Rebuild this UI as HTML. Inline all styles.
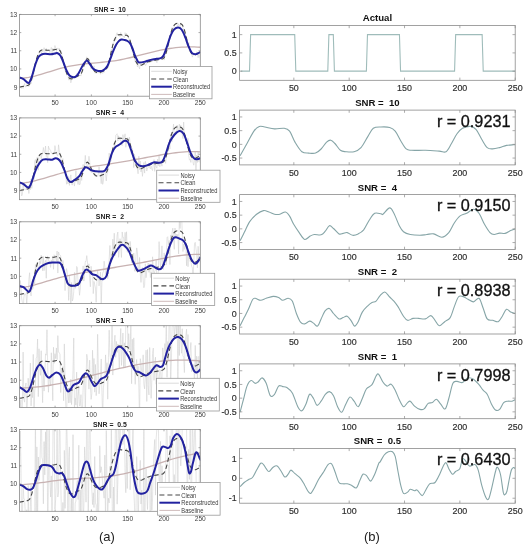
<!DOCTYPE html>
<html><head><meta charset="utf-8"><style>html,body{margin:0;padding:0;background:#fff;overflow:hidden}</style></head><body>
<svg width="528" height="550" viewBox="0 0 528 550" style="display:block;will-change:transform;filter:blur(0.3px)">
<rect width="528" height="550" fill="#fff"/>
<defs>
<clipPath id="cl0"><rect x="19.5" y="14.4" width="180.8" height="81.8"/></clipPath>
<clipPath id="cl1"><rect x="19.5" y="117.9" width="180.8" height="81.8"/></clipPath>
<clipPath id="cl2"><rect x="19.5" y="221.8" width="180.8" height="81.8"/></clipPath>
<clipPath id="cl3"><rect x="19.5" y="325.7" width="180.8" height="81.8"/></clipPath>
<clipPath id="cl4"><rect x="19.5" y="429.5" width="180.8" height="81.8"/></clipPath>
<clipPath id="cr0"><rect x="239.6" y="25.5" width="275.6" height="54.8"/></clipPath>
<clipPath id="cr1"><rect x="239.6" y="110.1" width="275.6" height="54.8"/></clipPath>
<clipPath id="cr2"><rect x="239.6" y="194.6" width="275.6" height="54.8"/></clipPath>
<clipPath id="cr3"><rect x="239.6" y="279.2" width="275.6" height="54.8"/></clipPath>
<clipPath id="cr4"><rect x="239.6" y="363.9" width="275.6" height="54.8"/></clipPath>
<clipPath id="cr5"><rect x="239.6" y="448.4" width="275.6" height="54.8"/></clipPath>
</defs>
<path d="M19.5,87.08 20.22,86.34 20.95,87.35 21.67,88.44 22.39,87.42 23.12,88.35 23.84,86.11 24.56,83.4 25.29,86.92 26.01,87.04 26.73,84.67 27.46,84.79 28.18,85.06 28.9,86.7 29.62,84.11 30.35,81.39 31.07,83.67 31.79,79.57 32.52,79.7 33.24,75.4 33.96,73.27 34.69,66.82 35.41,65.77 36.13,59.83 36.86,57.52 37.58,56.05 38.3,58.93 39.03,53.58 39.75,51.55 40.47,50.48 41.2,53.28 41.92,50.88 42.64,51.75 43.37,51.39 44.09,47.7 44.81,51.52 45.54,50.08 46.26,48.35 46.98,51.37 47.7,50.49 48.43,50.08 49.15,50.18 49.87,52.74 50.6,50.09 51.32,47.45 52.04,53.17 52.77,48.25 53.49,49.61 54.21,51 54.94,45.57 55.66,47.9 56.38,51.67 57.11,48.98 57.83,47.9 58.55,49.56 59.28,48.31 60,50.78 60.72,50.81 61.45,51.29 62.17,57.98 62.89,59 63.62,63.27 64.34,65.04 65.06,70.49 65.78,71.84 66.51,73.32 67.23,73.01 67.95,74 68.68,80.04 69.4,79.75 70.12,77.33 70.85,82.81 71.57,79.75 72.29,78.87 73.02,75.9 73.74,76.7 74.46,78.36 75.19,78.05 75.91,77.43 76.63,73.51 77.36,77.06 78.08,76.49 78.8,74.88 79.53,75.48 80.25,75.1 80.97,76.07 81.7,72.55 82.42,71.59 83.14,66.11 83.86,64.66 84.59,63.59 85.31,60.1 86.03,60.54 86.76,56.84 87.48,58.72 88.2,57.96 88.93,62.65 89.65,60.72 90.37,66.37 91.1,68.75 91.82,66.95 92.54,69.68 93.27,68.91 93.99,65.87 94.71,72.92 95.44,73.16 96.16,71.94 96.88,71.62 97.61,73.06 98.33,73.09 99.05,71.15 99.78,71.32 100.5,74.19 101.22,72.01 101.94,71.51 102.67,73.41 103.39,70.51 104.11,72.48 104.84,68.5 105.56,69.53 106.28,68.88 107.01,68.92 107.73,66.13 108.45,67.53 109.18,63.02 109.9,56.94 110.62,58.68 111.35,49.48 112.07,51.56 112.79,43.69 113.52,44.36 114.24,38.96 114.96,38.49 115.69,40.43 116.41,33.82 117.13,32.69 117.86,35.22 118.58,35.36 119.3,35 120.02,36.61 120.75,32.52 121.47,35.9 122.19,35.02 122.92,36.61 123.64,36.37 124.36,37.74 125.09,32.71 125.81,35.55 126.53,33.37 127.26,35.53 127.98,37.52 128.7,37.82 129.43,39.84 130.15,40.76 130.87,44.01 131.6,46.65 132.32,51.75 133.04,53.55 133.77,51.45 134.49,58.66 135.21,61.66 135.94,60.74 136.66,60.08 137.38,66.9 138.1,65.16 138.83,66.46 139.55,68.91 140.27,63.91 141,65.27 141.72,64.81 142.44,66.12 143.17,63.33 143.89,64.92 144.61,63.74 145.34,65.3 146.06,65.16 146.78,59.74 147.51,63.13 148.23,61.27 148.95,61.69 149.68,62.29 150.4,62.23 151.12,59.78 151.85,61.48 152.57,61.03 153.29,60.54 154.02,58.09 154.74,58.95 155.46,59.42 156.18,61.19 156.91,62.7 157.63,57.91 158.35,57.75 159.08,59.84 159.8,58.34 160.52,57.73 161.25,57.5 161.97,57.18 162.69,59.72 163.42,55.35 164.14,60.09 164.86,54.62 165.59,53.56 166.31,50.48 167.03,45.72 167.76,43.44 168.48,45.46 169.2,43.31 169.93,35.19 170.65,35.99 171.37,31.45 172.1,27.59 172.82,30.78 173.54,30.32 174.26,24.53 174.99,24.22 175.71,24.31 176.43,23.46 177.16,25.12 177.88,26.41 178.6,23.77 179.33,25.47 180.05,26.92 180.77,22.81 181.5,24.33 182.22,24.11 182.94,28.06 183.67,29.07 184.39,31.91 185.11,34.25 185.84,34.95 186.56,39.91 187.28,40.63 188.01,43.51 188.73,42.73 189.45,51.81 190.18,49.13 190.9,52.56 191.62,53.51 192.34,57.13 193.07,55.6 193.79,53.39 194.51,55.03 195.24,54.54 195.96,55.01 196.68,51.77 197.41,53.74 198.13,57.7 198.85,54.29 199.58,56.47 200.3,58.68" fill="none" stroke="#cfcfcf" stroke-width="0.55" clip-path="url(#cl0)"/>
<path d="M19.5,78.21 22.56,78.07 25.63,77.76 28.69,77.3 31.76,76.71 34.82,76.01 37.89,75.22 40.95,74.36 44.02,73.44 47.08,72.49 50.14,71.52 53.21,70.55 56.27,69.6 59.34,68.7 62.4,67.86 65.47,67.09 68.53,66.41 71.59,65.82 74.66,65.29 77.72,64.82 80.79,64.41 83.85,64.04 86.92,63.71 89.98,63.4 93.05,63.11 96.11,62.83 99.17,62.54 102.24,62.25 105.3,61.93 108.37,61.59 111.43,61.21 114.5,60.78 117.56,60.29 120.63,59.74 123.69,59.13 126.75,58.46 129.82,57.75 132.88,57 135.95,56.22 139.01,55.43 142.08,54.63 145.14,53.83 148.21,53.03 151.27,52.26 154.33,51.52 157.4,50.81 160.46,50.14 163.53,49.54 166.59,48.99 169.66,48.5 172.72,48.08 175.78,47.72 178.85,47.43 181.91,47.2 184.98,47.04 188.04,46.94 191.11,46.91 194.17,46.95 197.24,47.05 200.3,47.23" fill="none" stroke="#c8b2b2" stroke-width="1.3" clip-path="url(#cl0)"/>
<path d="M19.5,87.08 20.22,86.94 20.95,86.8 21.67,86.65 22.39,86.51 23.12,86.37 23.84,86.23 24.56,86.08 25.29,85.94 26.01,85.8 26.73,85.65 27.46,85.5 28.18,85.27 28.9,84.84 29.62,84.05 30.35,82.78 31.07,80.98 31.79,78.66 32.52,75.9 33.24,72.83 33.96,69.59 34.69,66.35 35.41,63.24 36.13,60.37 36.86,57.84 37.58,55.67 38.3,53.9 39.03,52.5 39.75,51.45 40.47,50.71 41.2,50.22 41.92,49.93 42.64,49.8 43.37,49.77 44.09,49.82 44.81,49.91 45.54,50.01 46.26,50.11 46.98,50.2 47.7,50.27 48.43,50.3 49.15,50.31 49.87,50.29 50.6,50.24 51.32,50.17 52.04,50.08 52.77,49.97 53.49,49.85 54.21,49.72 54.94,49.57 55.66,49.43 56.38,49.27 57.11,49.13 57.83,49.05 58.55,49.19 59.28,49.68 60,50.65 60.72,52.15 61.45,54.17 62.17,56.63 62.89,59.41 63.62,62.35 64.34,65.3 65.06,68.11 65.78,70.69 66.51,72.93 67.23,74.8 67.95,76.29 68.68,77.4 69.4,78.16 70.12,78.62 70.85,78.82 71.57,78.83 72.29,78.67 73.02,78.41 73.74,78.08 74.46,77.71 75.19,77.32 75.91,76.93 76.63,76.56 77.36,76.21 78.08,75.89 78.8,75.59 79.53,75.24 80.25,74.71 80.97,73.84 81.7,72.52 82.42,70.7 83.14,68.44 83.86,65.97 84.59,63.54 85.31,61.44 86.03,59.86 86.76,58.94 87.48,58.71 88.2,59.12 88.93,60.07 89.65,61.41 90.37,62.99 91.1,64.68 91.82,66.34 92.54,67.88 93.27,69.23 93.99,70.36 94.71,71.25 95.44,71.91 96.16,72.35 96.88,72.61 97.61,72.71 98.33,72.68 99.05,72.55 99.78,72.36 100.5,72.12 101.22,71.86 101.94,71.58 102.67,71.3 103.39,71.03 104.11,70.77 104.84,70.44 105.56,69.92 106.28,69.06 107.01,67.73 107.73,65.89 108.45,63.54 109.18,60.76 109.9,57.67 110.62,54.42 111.35,51.18 112.07,48.07 112.79,45.21 113.52,42.67 114.24,40.52 114.96,38.75 115.69,37.36 116.41,36.32 117.13,35.58 117.86,35.09 118.58,34.81 119.3,34.68 120.02,34.66 120.75,34.72 121.47,34.81 122.19,34.92 122.92,35.03 123.64,35.12 124.36,35.19 125.09,35.23 125.81,35.24 126.53,35.31 127.26,35.55 127.98,36.13 128.7,37.17 129.43,38.72 130.15,40.77 130.87,43.26 131.6,46.05 132.32,48.99 133.04,51.94 133.77,54.75 134.49,57.32 135.21,59.55 135.94,61.42 136.66,62.89 137.38,63.99 138.1,64.74 138.83,65.19 139.55,65.39 140.27,65.38 141,65.22 141.72,64.96 142.44,64.62 143.17,64.24 143.89,63.85 144.61,63.46 145.34,63.08 146.06,62.73 146.78,62.41 147.51,62.12 148.23,61.85 148.95,61.62 149.68,61.4 150.4,61.21 151.12,61.04 151.85,60.87 152.57,60.72 153.29,60.58 154.02,60.45 154.74,60.31 155.46,60.19 156.18,60.06 156.91,59.93 157.63,59.81 158.35,59.68 159.08,59.55 159.8,59.43 160.52,59.3 161.25,59.17 161.97,59.03 162.69,58.81 163.42,58.38 164.14,57.6 164.86,56.34 165.59,54.54 166.31,52.23 167.03,49.48 167.76,46.41 168.48,43.17 169.2,39.93 169.93,36.83 170.65,33.96 171.37,31.43 172.1,29.27 172.82,27.5 173.54,26.1 174.26,25.05 174.99,24.31 175.71,23.82 176.43,23.54 177.16,23.4 177.88,23.38 178.6,23.43 179.33,23.52 180.05,23.64 180.77,23.82 181.5,24.21 182.22,24.92 182.94,26.08 183.67,27.75 184.39,29.91 185.11,32.48 185.84,35.34 186.56,38.35 187.28,41.34 188.01,44.19 188.73,46.78 189.45,49.03 190.18,50.9 190.9,52.38 191.62,53.48 192.34,54.24 193.07,54.68 193.79,54.87 194.51,54.86 195.24,54.7 195.96,54.43 196.68,54.08 197.41,53.7 198.13,53.3 198.85,52.91 199.58,52.53 200.3,52.18" fill="none" stroke="#474747" stroke-width="1.1" stroke-dasharray="4.5,2.8" clip-path="url(#cl0)"/>
<path d="M19.5,77.6C20.17,77.85 22.03,78.2 23.5,79.1C24.97,80 27.13,82.85 28.3,83C29.47,83.15 29.8,81.42 30.5,80C31.2,78.58 31.67,77.17 32.5,74.5C33.33,71.83 34.5,66.92 35.5,64C36.5,61.08 37.5,58.58 38.5,57C39.5,55.42 40.42,55.03 41.5,54.5C42.58,53.97 43.42,53.83 45,53.8C46.58,53.77 49.33,54.35 51,54.3C52.67,54.25 53.9,53.68 55,53.5C56.1,53.32 56.72,52.87 57.6,53.2C58.48,53.53 59.35,54.03 60.3,55.5C61.25,56.97 62.27,59.5 63.3,62C64.33,64.5 65.47,68.25 66.5,70.5C67.53,72.75 68.33,74.37 69.5,75.5C70.67,76.63 72.33,77.22 73.5,77.3C74.67,77.38 75.58,76.8 76.5,76C77.42,75.2 77.92,74.33 79,72.5C80.08,70.67 81.73,66.98 83,65C84.27,63.02 85.52,60.85 86.6,60.6C87.68,60.35 88.43,62.18 89.5,63.5C90.57,64.82 91.72,67.3 93,68.5C94.28,69.7 95.75,70.3 97.2,70.7C98.65,71.1 100.48,71.13 101.7,70.9C102.92,70.67 103.55,70.1 104.5,69.3C105.45,68.5 106.4,67.9 107.4,66.1C108.4,64.3 109.55,60.95 110.5,58.5C111.45,56.05 112.18,53.65 113.1,51.4C114.02,49.15 115.05,46.72 116,45C116.95,43.28 117.88,42 118.8,41.1C119.72,40.2 120.55,39.78 121.5,39.6C122.45,39.42 123.5,39.77 124.5,40C125.5,40.23 126.57,40.43 127.5,41C128.43,41.57 129.27,42.15 130.1,43.4C130.93,44.65 131.73,46.6 132.5,48.5C133.27,50.4 133.95,52.92 134.7,54.8C135.45,56.68 136.28,58.52 137,59.8C137.72,61.08 137.68,62.18 139,62.5C140.32,62.82 142.95,62.13 144.9,61.7C146.85,61.27 148.75,60.38 150.7,59.9C152.65,59.42 154.93,59.08 156.6,58.8C158.27,58.52 159.52,58.8 160.7,58.2C161.88,57.6 162.62,57.27 163.7,55.2C164.78,53.13 166.03,49.12 167.2,45.8C168.37,42.48 169.53,38.03 170.7,35.3C171.87,32.57 172.93,30.68 174.2,29.4C175.47,28.12 177.02,27.5 178.3,27.6C179.58,27.7 180.72,28.33 181.9,30C183.08,31.67 184.33,34.97 185.4,37.6C186.47,40.23 187.23,43.25 188.3,45.8C189.37,48.35 190.62,51.48 191.8,52.9C192.98,54.32 194.22,54.3 195.4,54.3C196.58,54.3 198.05,53.32 198.9,52.9C199.75,52.48 200.23,51.98 200.5,51.8" fill="none" stroke="#2222a0" stroke-width="2" stroke-linejoin="round" clip-path="url(#cl0)"/>
<rect x="19.5" y="14.4" width="180.8" height="81.8" fill="none" stroke="#8a8a8a" stroke-width="0.8"/>
<path d="M55.08,96.2v-1.8M55.08,14.4v1.8M91.38,96.2v-1.8M91.38,14.4v1.8M127.69,96.2v-1.8M127.69,14.4v1.8M163.99,96.2v-1.8M163.99,14.4v1.8M200.3,96.2v-1.8M200.3,14.4v1.8M19.5,87.11h1.8M200.3,87.11h-1.8M19.5,68.93h1.8M200.3,68.93h-1.8M19.5,50.76h1.8M200.3,50.76h-1.8M19.5,32.58h1.8M200.3,32.58h-1.8M19.5,14.4h1.8M200.3,14.4h-1.8" stroke="#8a8a8a" stroke-width="0.7" fill="none"/>
<g font-family='"Liberation Sans", sans-serif' font-size="6.6" fill="#404040"><text x="55.08" y="105.4" text-anchor="middle">50</text><text x="91.38" y="105.4" text-anchor="middle">100</text><text x="127.69" y="105.4" text-anchor="middle">150</text><text x="163.99" y="105.4" text-anchor="middle">200</text><text x="200.3" y="105.4" text-anchor="middle">250</text><text x="17.3" y="89.51" text-anchor="end">9</text><text x="17.3" y="71.33" text-anchor="end">10</text><text x="17.3" y="53.16" text-anchor="end">11</text><text x="17.3" y="34.98" text-anchor="end">12</text><text x="17.3" y="16.8" text-anchor="end">13</text></g>
<text x="109.9" y="11.7" text-anchor="middle" font-family='"Liberation Sans", sans-serif' font-size="6.9" font-weight="bold" fill="#222">SNR = &#160;10</text>
<path d="M19.5,193.19 20.22,183.9 20.95,190.07 21.67,195.91 22.39,194.63 23.12,184.32 23.84,188.95 24.56,189.35 25.29,189.7 26.01,189.11 26.73,185.2 27.46,186.29 28.18,187.72 28.9,193.46 29.62,185.04 30.35,189.64 31.07,179.11 31.79,188.4 32.52,180.07 33.24,176.36 33.96,179.59 34.69,161.4 35.41,159.57 36.13,166.15 36.86,157.55 37.58,157.32 38.3,170.23 39.03,154.77 39.75,155.25 40.47,153.8 41.2,159 41.92,154.75 42.64,154.17 43.37,147.44 44.09,151.68 44.81,153.44 45.54,146.01 46.26,156.34 46.98,155.61 47.7,162.68 48.43,146.1 49.15,149.08 49.87,149.29 50.6,150.46 51.32,153.13 52.04,152.52 52.77,154.71 53.49,154.35 54.21,152.95 54.94,145.65 55.66,150.2 56.38,153.06 57.11,155.47 57.83,155.67 58.55,144.82 59.28,150.69 60,153.81 60.72,157.35 61.45,163.11 62.17,160.46 62.89,158.62 63.62,167.77 64.34,169.91 65.06,172.7 65.78,173.65 66.51,184.25 67.23,179.46 67.95,183.98 68.68,176.56 69.4,185.44 70.12,179.29 70.85,174.84 71.57,183.87 72.29,185.13 73.02,180.97 73.74,181.59 74.46,186.08 75.19,178.55 75.91,170.54 76.63,181.32 77.36,180.7 78.08,184.51 78.8,177.52 79.53,184.86 80.25,183.64 80.97,171.06 81.7,180.47 82.42,168.89 83.14,164.46 83.86,168.19 84.59,164.33 85.31,155.36 86.03,164.33 86.76,165.35 87.48,168.85 88.2,162.42 88.93,156.31 89.65,160.2 90.37,171.12 91.1,172.38 91.82,172.31 92.54,169.94 93.27,173.74 93.99,172.81 94.71,173.3 95.44,176.88 96.16,176.05 96.88,175.09 97.61,176.62 98.33,173.71 99.05,166.87 99.78,172.95 100.5,175.35 101.22,183.63 101.94,173.18 102.67,184.36 103.39,181.45 104.11,170.07 104.84,170.47 105.56,174.16 106.28,180.95 107.01,173.06 107.73,172.72 108.45,163.91 109.18,153.17 109.9,160.1 110.62,161.75 111.35,160.42 112.07,151.84 112.79,149.57 113.52,151.83 114.24,143.45 114.96,147.9 115.69,135.4 116.41,134.6 117.13,133.75 117.86,140.92 118.58,135.79 119.3,138.83 120.02,140.07 120.75,139.88 121.47,144.69 122.19,145.51 122.92,134.63 123.64,139.56 124.36,137.63 125.09,133.81 125.81,147.25 126.53,142.65 127.26,138.19 127.98,137.71 128.7,142.52 129.43,137.17 130.15,143.24 130.87,152.71 131.6,154.11 132.32,148.54 133.04,153.16 133.77,167.57 134.49,154.2 135.21,160.12 135.94,158.32 136.66,168.28 137.38,168.94 138.1,173.77 138.83,156.24 139.55,169.75 140.27,161.09 141,171.9 141.72,167.65 142.44,176.32 143.17,169.62 143.89,162.52 144.61,173.1 145.34,161.32 146.06,164.58 146.78,171.03 147.51,168.08 148.23,167.61 148.95,165.36 149.68,167.54 150.4,168.77 151.12,166.03 151.85,169.41 152.57,170.55 153.29,164.32 154.02,159.61 154.74,171.32 155.46,163.67 156.18,166.75 156.91,168.23 157.63,159.12 158.35,165.72 159.08,155.7 159.8,166.75 160.52,160.9 161.25,163.78 161.97,166.23 162.69,159.42 163.42,162.64 164.14,158.14 164.86,160.07 165.59,163.37 166.31,156.23 167.03,152.72 167.76,145.2 168.48,151.12 169.2,143.63 169.93,148.78 170.65,134.27 171.37,140.24 172.1,141.63 172.82,131.29 173.54,124.17 174.26,136.04 174.99,133.15 175.71,130.97 176.43,132.58 177.16,125.04 177.88,130.84 178.6,130.47 179.33,124.16 180.05,130.85 180.77,125.2 181.5,132.47 182.22,134.37 182.94,138.59 183.67,122.12 184.39,134.98 185.11,134.78 185.84,138.99 186.56,141.06 187.28,144.6 188.01,138.32 188.73,155.37 189.45,160.17 190.18,159.37 190.9,162.43 191.62,153.32 192.34,153.71 193.07,162.9 193.79,165.2 194.51,160.1 195.24,151.37 195.96,171.76 196.68,155 197.41,162.48 198.13,151.7 198.85,161.7 199.58,157.43 200.3,163.07" fill="none" stroke="#cfcfcf" stroke-width="0.55" clip-path="url(#cl1)"/>
<path d="M19.5,183.42 22.56,183.1 25.63,182.66 28.69,182.12 31.76,181.48 34.82,180.77 37.89,179.99 40.95,179.15 44.02,178.28 47.08,177.38 50.14,176.47 53.21,175.55 56.27,174.64 59.34,173.75 62.4,172.88 65.47,172.04 68.53,171.23 71.59,170.46 74.66,169.74 77.72,169.07 80.79,168.45 83.85,167.89 86.92,167.37 89.98,166.89 93.05,166.43 96.11,165.98 99.17,165.54 102.24,165.09 105.3,164.63 108.37,164.15 111.43,163.66 114.5,163.16 117.56,162.65 120.63,162.13 123.69,161.6 126.75,161.07 129.82,160.53 132.88,159.98 135.95,159.43 139.01,158.87 142.08,158.32 145.14,157.76 148.21,157.2 151.27,156.64 154.33,156.08 157.4,155.53 160.46,155 163.53,154.48 166.59,153.99 169.66,153.53 172.72,153.11 175.78,152.73 178.85,152.39 181.91,152.1 184.98,151.88 188.04,151.72 191.11,151.62 194.17,151.6 197.24,151.66 200.3,151.81" fill="none" stroke="#c8b2b2" stroke-width="1.3" clip-path="url(#cl1)"/>
<path d="M19.5,190.58 20.22,190.44 20.95,190.3 21.67,190.15 22.39,190.01 23.12,189.87 23.84,189.73 24.56,189.58 25.29,189.44 26.01,189.3 26.73,189.15 27.46,189 28.18,188.77 28.9,188.34 29.62,187.55 30.35,186.28 31.07,184.48 31.79,182.16 32.52,179.4 33.24,176.33 33.96,173.09 34.69,169.85 35.41,166.74 36.13,163.87 36.86,161.34 37.58,159.17 38.3,157.4 39.03,156 39.75,154.95 40.47,154.21 41.2,153.72 41.92,153.43 42.64,153.3 43.37,153.27 44.09,153.32 44.81,153.41 45.54,153.51 46.26,153.61 46.98,153.7 47.7,153.77 48.43,153.8 49.15,153.81 49.87,153.79 50.6,153.74 51.32,153.67 52.04,153.58 52.77,153.47 53.49,153.35 54.21,153.22 54.94,153.07 55.66,152.93 56.38,152.77 57.11,152.63 57.83,152.55 58.55,152.69 59.28,153.18 60,154.15 60.72,155.65 61.45,157.67 62.17,160.13 62.89,162.91 63.62,165.85 64.34,168.8 65.06,171.61 65.78,174.19 66.51,176.43 67.23,178.3 67.95,179.79 68.68,180.9 69.4,181.66 70.12,182.12 70.85,182.32 71.57,182.33 72.29,182.17 73.02,181.91 73.74,181.58 74.46,181.21 75.19,180.82 75.91,180.43 76.63,180.06 77.36,179.71 78.08,179.39 78.8,179.09 79.53,178.74 80.25,178.21 80.97,177.34 81.7,176.02 82.42,174.2 83.14,171.94 83.86,169.47 84.59,167.04 85.31,164.94 86.03,163.36 86.76,162.44 87.48,162.21 88.2,162.62 88.93,163.57 89.65,164.91 90.37,166.49 91.1,168.18 91.82,169.84 92.54,171.38 93.27,172.73 93.99,173.86 94.71,174.75 95.44,175.41 96.16,175.85 96.88,176.11 97.61,176.21 98.33,176.18 99.05,176.05 99.78,175.86 100.5,175.62 101.22,175.36 101.94,175.08 102.67,174.8 103.39,174.53 104.11,174.27 104.84,173.94 105.56,173.42 106.28,172.56 107.01,171.23 107.73,169.39 108.45,167.04 109.18,164.26 109.9,161.17 110.62,157.92 111.35,154.68 112.07,151.57 112.79,148.71 113.52,146.17 114.24,144.02 114.96,142.25 115.69,140.86 116.41,139.82 117.13,139.08 117.86,138.59 118.58,138.31 119.3,138.18 120.02,138.16 120.75,138.22 121.47,138.31 122.19,138.42 122.92,138.53 123.64,138.62 124.36,138.69 125.09,138.73 125.81,138.74 126.53,138.81 127.26,139.05 127.98,139.63 128.7,140.67 129.43,142.22 130.15,144.27 130.87,146.76 131.6,149.55 132.32,152.49 133.04,155.44 133.77,158.25 134.49,160.82 135.21,163.05 135.94,164.92 136.66,166.39 137.38,167.49 138.1,168.24 138.83,168.69 139.55,168.89 140.27,168.88 141,168.72 141.72,168.46 142.44,168.12 143.17,167.74 143.89,167.35 144.61,166.96 145.34,166.58 146.06,166.23 146.78,165.91 147.51,165.62 148.23,165.35 148.95,165.12 149.68,164.9 150.4,164.71 151.12,164.54 151.85,164.37 152.57,164.22 153.29,164.08 154.02,163.95 154.74,163.81 155.46,163.69 156.18,163.56 156.91,163.43 157.63,163.31 158.35,163.18 159.08,163.05 159.8,162.93 160.52,162.8 161.25,162.67 161.97,162.53 162.69,162.31 163.42,161.88 164.14,161.1 164.86,159.84 165.59,158.04 166.31,155.73 167.03,152.98 167.76,149.91 168.48,146.67 169.2,143.43 169.93,140.33 170.65,137.46 171.37,134.93 172.1,132.77 172.82,131 173.54,129.6 174.26,128.55 174.99,127.81 175.71,127.32 176.43,127.04 177.16,126.9 177.88,126.88 178.6,126.93 179.33,127.02 180.05,127.14 180.77,127.32 181.5,127.71 182.22,128.42 182.94,129.58 183.67,131.25 184.39,133.41 185.11,135.98 185.84,138.84 186.56,141.85 187.28,144.84 188.01,147.69 188.73,150.28 189.45,152.53 190.18,154.4 190.9,155.88 191.62,156.98 192.34,157.74 193.07,158.18 193.79,158.37 194.51,158.36 195.24,158.2 195.96,157.93 196.68,157.58 197.41,157.2 198.13,156.8 198.85,156.41 199.58,156.03 200.3,155.68" fill="none" stroke="#474747" stroke-width="1.1" stroke-dasharray="4.5,2.8" clip-path="url(#cl1)"/>
<path d="M19.5,182.3C20.17,182.6 22.07,183.23 23.5,184.1C24.93,184.97 26.95,187.32 28.1,187.5C29.25,187.68 29.55,186.9 30.4,185.2C31.25,183.5 32.27,179.95 33.2,177.3C34.13,174.65 34.95,171.67 36,169.3C37.05,166.93 38.35,164.7 39.5,163.1C40.65,161.5 41.58,160.32 42.9,159.7C44.22,159.08 45.88,159.4 47.4,159.4C48.92,159.4 50.67,159.9 52,159.7C53.33,159.5 54.37,158.3 55.4,158.2C56.43,158.1 57.27,158.38 58.2,159.1C59.13,159.82 59.95,160.6 61,162.5C62.05,164.4 63.45,167.85 64.5,170.5C65.55,173.15 66.37,176.52 67.3,178.4C68.23,180.28 69.07,181.42 70.1,181.8C71.13,182.18 72.02,181.6 73.5,180.7C74.98,179.8 77.52,178.02 79,176.4C80.48,174.78 81.35,172.52 82.4,171C83.45,169.48 84.35,167.78 85.3,167.3C86.25,166.82 87.07,167.58 88.1,168.1C89.13,168.62 90.18,169.88 91.5,170.4C92.82,170.92 94.3,171.02 96,171.2C97.7,171.38 100.18,171.63 101.7,171.5C103.22,171.37 103.97,171.63 105.1,170.4C106.23,169.17 107.35,167.03 108.5,164.1C109.65,161.17 110.85,155.63 112,152.8C113.15,149.97 114.08,148.52 115.4,147.1C116.72,145.68 118.38,145.35 119.9,144.3C121.42,143.25 123.17,141.18 124.5,140.8C125.83,140.42 126.77,140.38 127.9,142C129.03,143.62 130.17,147.47 131.3,150.5C132.43,153.53 133.42,157.72 134.7,160.2C135.98,162.68 137.3,164.42 139,165.4C140.7,166.38 143.13,166.28 144.9,166.1C146.67,165.92 148.03,164.93 149.6,164.3C151.17,163.67 152.73,162.55 154.3,162.3C155.87,162.05 157.63,162.95 159,162.8C160.37,162.65 161.33,163 162.5,161.4C163.67,159.8 164.83,156.33 166,153.2C167.17,150.07 168.13,145.63 169.5,142.6C170.87,139.57 172.53,136.95 174.2,135C175.87,133.05 177.93,131.1 179.5,130.9C181.07,130.7 182.33,131.85 183.6,133.8C184.87,135.75 185.92,139.37 187.1,142.6C188.28,145.83 189.52,150.55 190.7,153.2C191.88,155.85 193.03,157.52 194.2,158.5C195.37,159.48 196.65,159.18 197.7,159.1C198.75,159.02 200.03,158.18 200.5,158" fill="none" stroke="#2222a0" stroke-width="2" stroke-linejoin="round" clip-path="url(#cl1)"/>
<rect x="19.5" y="117.9" width="180.8" height="81.8" fill="none" stroke="#8a8a8a" stroke-width="0.8"/>
<path d="M55.08,199.7v-1.8M55.08,117.9v1.8M91.38,199.7v-1.8M91.38,117.9v1.8M127.69,199.7v-1.8M127.69,117.9v1.8M163.99,199.7v-1.8M163.99,117.9v1.8M200.3,199.7v-1.8M200.3,117.9v1.8M19.5,190.61h1.8M200.3,190.61h-1.8M19.5,172.43h1.8M200.3,172.43h-1.8M19.5,154.26h1.8M200.3,154.26h-1.8M19.5,136.08h1.8M200.3,136.08h-1.8M19.5,117.9h1.8M200.3,117.9h-1.8" stroke="#8a8a8a" stroke-width="0.7" fill="none"/>
<g font-family='"Liberation Sans", sans-serif' font-size="6.6" fill="#404040"><text x="55.08" y="208.9" text-anchor="middle">50</text><text x="91.38" y="208.9" text-anchor="middle">100</text><text x="127.69" y="208.9" text-anchor="middle">150</text><text x="163.99" y="208.9" text-anchor="middle">200</text><text x="200.3" y="208.9" text-anchor="middle">250</text><text x="17.3" y="193.01" text-anchor="end">9</text><text x="17.3" y="174.83" text-anchor="end">10</text><text x="17.3" y="156.66" text-anchor="end">11</text><text x="17.3" y="138.48" text-anchor="end">12</text><text x="17.3" y="120.3" text-anchor="end">13</text></g>
<text x="109.9" y="115.2" text-anchor="middle" font-family='"Liberation Sans", sans-serif' font-size="6.9" font-weight="bold" fill="#222">SNR = &#160;4</text>
<path d="M19.5,304.26 20.22,280.49 20.95,285.99 21.67,298.07 22.39,302.61 23.12,312.7 23.84,297.56 24.56,293.79 25.29,294.18 26.01,294.13 26.73,304.27 27.46,293.56 28.18,293.06 28.9,279.34 29.62,272.78 30.35,291.55 31.07,296.04 31.79,286.71 32.52,289.37 33.24,287.65 33.96,277.58 34.69,284.18 35.41,264.58 36.13,268.81 36.86,262.74 37.58,264.9 38.3,268.57 39.03,269.38 39.75,261.23 40.47,263.59 41.2,255.28 41.92,257.37 42.64,270.82 43.37,256.5 44.09,270.65 44.81,263.47 45.54,260.36 46.26,278.26 46.98,256.69 47.7,256.16 48.43,259.28 49.15,261.95 49.87,261.42 50.6,267.41 51.32,260.27 52.04,263.01 52.77,256.46 53.49,269.29 54.21,254.76 54.94,255.54 55.66,258.24 56.38,261.06 57.11,251 57.83,273.09 58.55,251.98 59.28,254.65 60,255.21 60.72,255.71 61.45,268.1 62.17,266.62 62.89,260.44 63.62,265.44 64.34,270.63 65.06,290.65 65.78,272.71 66.51,268.64 67.23,272.11 67.95,281.35 68.68,300.37 69.4,276.14 70.12,287.49 70.85,311.54 71.57,282.46 72.29,300.99 73.02,298.77 73.74,291.83 74.46,272.38 75.19,288.42 75.91,281.62 76.63,266.48 77.36,267.67 78.08,284.32 78.8,285.4 79.53,295.24 80.25,289.05 80.97,276.99 81.7,275.97 82.42,277 83.14,265.9 83.86,281.09 84.59,271.5 85.31,261.53 86.03,261.42 86.76,255.64 87.48,262.14 88.2,269.62 88.93,263.85 89.65,278.83 90.37,286.78 91.1,266.27 91.82,274.29 92.54,272.2 93.27,293.61 93.99,281.41 94.71,284.65 95.44,287.95 96.16,302.3 96.88,283.36 97.61,271.13 98.33,276.27 99.05,285.96 99.78,279.91 100.5,271.95 101.22,306.85 101.94,280.23 102.67,273.27 103.39,271.61 104.11,261.16 104.84,266.49 105.56,274.2 106.28,273.44 107.01,267.27 107.73,278.68 108.45,271.34 109.18,259.1 109.9,245.5 110.62,263.42 111.35,259.06 112.07,253.48 112.79,239.18 113.52,250.38 114.24,233.23 114.96,255.81 115.69,246.62 116.41,245.7 117.13,235.11 117.86,232.04 118.58,257.3 119.3,251.23 120.02,238.7 120.75,248.7 121.47,257.43 122.19,231.94 122.92,237.49 123.64,237.59 124.36,247.34 125.09,232.34 125.81,245.04 126.53,231.74 127.26,252.07 127.98,252.07 128.7,242.52 129.43,253.14 130.15,241.42 130.87,248.06 131.6,262.67 132.32,255.66 133.04,262.85 133.77,253 134.49,271.04 135.21,271.35 135.94,256.71 136.66,247.91 137.38,251.41 138.1,271.51 138.83,270.41 139.55,257.46 140.27,274.03 141,282.38 141.72,271.19 142.44,267.5 143.17,279.93 143.89,287.7 144.61,285.22 145.34,263.83 146.06,277.71 146.78,271.22 147.51,267.39 148.23,263.06 148.95,272.37 149.68,263.82 150.4,277.51 151.12,272.05 151.85,278.52 152.57,256.81 153.29,268.25 154.02,275.24 154.74,271.24 155.46,269.8 156.18,260.46 156.91,283.29 157.63,277.58 158.35,270.86 159.08,241.64 159.8,257.27 160.52,267.81 161.25,259.45 161.97,245.86 162.69,268.55 163.42,269.45 164.14,252.88 164.86,258.8 165.59,255.23 166.31,264.71 167.03,237.64 167.76,236.72 168.48,244.92 169.2,240.49 169.93,264.49 170.65,234.99 171.37,240.77 172.1,232.33 172.82,228.07 173.54,236.91 174.26,249.35 174.99,228.03 175.71,238.63 176.43,234.24 177.16,236.85 177.88,234.2 178.6,253.92 179.33,218.76 180.05,228.5 180.77,220.11 181.5,211.81 182.22,232.09 182.94,251.5 183.67,244.09 184.39,249.38 185.11,244.9 185.84,241.95 186.56,265.76 187.28,245.32 188.01,266.69 188.73,251.2 189.45,257.52 190.18,261.44 190.9,260.51 191.62,266.28 192.34,267.76 193.07,278.91 193.79,262.57 194.51,243.81 195.24,242.3 195.96,248.61 196.68,254.43 197.41,267.86 198.13,246.28 198.85,260.87 199.58,260.62 200.3,262.49" fill="none" stroke="#cfcfcf" stroke-width="0.55" clip-path="url(#cl2)"/>
<path d="M19.5,287.66 22.56,287.35 25.63,286.89 28.69,286.3 31.76,285.6 34.82,284.82 37.89,283.96 40.95,283.06 44.02,282.13 47.08,281.19 50.14,280.26 53.21,279.36 56.27,278.51 59.34,277.71 62.4,276.95 65.47,276.23 68.53,275.54 71.59,274.89 74.66,274.28 77.72,273.68 80.79,273.12 83.85,272.57 86.92,272.04 89.98,271.52 93.05,271.01 96.11,270.51 99.17,270.01 102.24,269.51 105.3,269.01 108.37,268.51 111.43,268 114.5,267.49 117.56,266.97 120.63,266.45 123.69,265.92 126.75,265.38 129.82,264.84 132.88,264.29 135.95,263.73 139.01,263.16 142.08,262.59 145.14,262 148.21,261.41 151.27,260.8 154.33,260.19 157.4,259.57 160.46,258.95 163.53,258.35 166.59,257.76 169.66,257.2 172.72,256.67 175.78,256.18 178.85,255.74 181.91,255.34 184.98,255.01 188.04,254.74 191.11,254.54 194.17,254.43 197.24,254.4 200.3,254.46" fill="none" stroke="#c8b2b2" stroke-width="1.3" clip-path="url(#cl2)"/>
<path d="M19.5,294.48 20.22,294.34 20.95,294.2 21.67,294.05 22.39,293.91 23.12,293.77 23.84,293.63 24.56,293.48 25.29,293.34 26.01,293.2 26.73,293.05 27.46,292.9 28.18,292.67 28.9,292.24 29.62,291.45 30.35,290.18 31.07,288.38 31.79,286.06 32.52,283.3 33.24,280.23 33.96,276.99 34.69,273.75 35.41,270.64 36.13,267.77 36.86,265.24 37.58,263.07 38.3,261.3 39.03,259.9 39.75,258.85 40.47,258.11 41.2,257.62 41.92,257.33 42.64,257.2 43.37,257.17 44.09,257.22 44.81,257.31 45.54,257.41 46.26,257.51 46.98,257.6 47.7,257.67 48.43,257.7 49.15,257.71 49.87,257.69 50.6,257.64 51.32,257.57 52.04,257.48 52.77,257.37 53.49,257.25 54.21,257.12 54.94,256.97 55.66,256.83 56.38,256.67 57.11,256.53 57.83,256.45 58.55,256.59 59.28,257.08 60,258.05 60.72,259.55 61.45,261.57 62.17,264.03 62.89,266.81 63.62,269.75 64.34,272.7 65.06,275.51 65.78,278.09 66.51,280.33 67.23,282.2 67.95,283.69 68.68,284.8 69.4,285.56 70.12,286.02 70.85,286.22 71.57,286.23 72.29,286.07 73.02,285.81 73.74,285.48 74.46,285.11 75.19,284.72 75.91,284.33 76.63,283.96 77.36,283.61 78.08,283.29 78.8,282.99 79.53,282.64 80.25,282.11 80.97,281.24 81.7,279.92 82.42,278.1 83.14,275.84 83.86,273.37 84.59,270.94 85.31,268.84 86.03,267.26 86.76,266.34 87.48,266.11 88.2,266.52 88.93,267.47 89.65,268.81 90.37,270.39 91.1,272.08 91.82,273.74 92.54,275.28 93.27,276.63 93.99,277.76 94.71,278.65 95.44,279.31 96.16,279.75 96.88,280.01 97.61,280.11 98.33,280.08 99.05,279.95 99.78,279.76 100.5,279.52 101.22,279.26 101.94,278.98 102.67,278.7 103.39,278.43 104.11,278.17 104.84,277.84 105.56,277.32 106.28,276.46 107.01,275.13 107.73,273.29 108.45,270.94 109.18,268.16 109.9,265.07 110.62,261.82 111.35,258.58 112.07,255.47 112.79,252.61 113.52,250.07 114.24,247.92 114.96,246.15 115.69,244.76 116.41,243.72 117.13,242.98 117.86,242.49 118.58,242.21 119.3,242.08 120.02,242.06 120.75,242.12 121.47,242.21 122.19,242.32 122.92,242.43 123.64,242.52 124.36,242.59 125.09,242.63 125.81,242.64 126.53,242.71 127.26,242.95 127.98,243.53 128.7,244.57 129.43,246.12 130.15,248.17 130.87,250.66 131.6,253.45 132.32,256.39 133.04,259.34 133.77,262.15 134.49,264.72 135.21,266.95 135.94,268.82 136.66,270.29 137.38,271.39 138.1,272.14 138.83,272.59 139.55,272.79 140.27,272.78 141,272.62 141.72,272.36 142.44,272.02 143.17,271.64 143.89,271.25 144.61,270.86 145.34,270.48 146.06,270.13 146.78,269.81 147.51,269.52 148.23,269.25 148.95,269.02 149.68,268.8 150.4,268.61 151.12,268.44 151.85,268.27 152.57,268.12 153.29,267.98 154.02,267.85 154.74,267.71 155.46,267.59 156.18,267.46 156.91,267.33 157.63,267.21 158.35,267.08 159.08,266.95 159.8,266.83 160.52,266.7 161.25,266.57 161.97,266.43 162.69,266.21 163.42,265.78 164.14,265 164.86,263.74 165.59,261.94 166.31,259.63 167.03,256.88 167.76,253.81 168.48,250.57 169.2,247.33 169.93,244.23 170.65,241.36 171.37,238.83 172.1,236.67 172.82,234.9 173.54,233.5 174.26,232.45 174.99,231.71 175.71,231.22 176.43,230.94 177.16,230.8 177.88,230.78 178.6,230.83 179.33,230.92 180.05,231.04 180.77,231.22 181.5,231.61 182.22,232.32 182.94,233.48 183.67,235.15 184.39,237.31 185.11,239.88 185.84,242.74 186.56,245.75 187.28,248.74 188.01,251.59 188.73,254.18 189.45,256.43 190.18,258.3 190.9,259.78 191.62,260.88 192.34,261.64 193.07,262.08 193.79,262.27 194.51,262.26 195.24,262.1 195.96,261.83 196.68,261.48 197.41,261.1 198.13,260.7 198.85,260.31 199.58,259.93 200.3,259.58" fill="none" stroke="#474747" stroke-width="1.1" stroke-dasharray="4.5,2.8" clip-path="url(#cl2)"/>
<path d="M19.5,286C20.17,286.2 21.97,286.23 23.5,287.2C25.03,288.17 27.47,291.6 28.7,291.8C29.93,292 30.15,290.3 30.9,288.4C31.65,286.5 32.35,282.97 33.2,280.4C34.05,277.83 34.95,275.08 36,273C37.05,270.92 38.27,269.22 39.5,267.9C40.73,266.58 41.9,265.92 43.4,265.1C44.9,264.28 46.88,263.43 48.5,263C50.12,262.57 51.58,262.58 53.1,262.5C54.62,262.42 56.37,262.35 57.6,262.5C58.83,262.65 59.63,262.5 60.5,263.4C61.37,264.3 61.95,265.63 62.8,267.9C63.65,270.17 64.75,274.35 65.6,277C66.45,279.65 66.95,282.38 67.9,283.8C68.85,285.22 69.98,285.22 71.3,285.5C72.62,285.78 74.52,285.78 75.8,285.5C77.08,285.22 77.9,285.52 79,283.8C80.1,282.08 81.27,277.53 82.4,275.2C83.53,272.87 84.75,270.55 85.8,269.8C86.85,269.05 87.65,269.98 88.7,270.7C89.75,271.42 90.88,273.35 92.1,274.1C93.32,274.85 94.68,274.53 96,275.2C97.32,275.87 98.85,277.43 100,278.1C101.15,278.77 101.85,279.48 102.9,279.2C103.95,278.92 105.27,278.58 106.3,276.4C107.33,274.22 108.15,269.13 109.1,266.1C110.05,263.07 110.77,260.75 112,258.2C113.23,255.65 115,252.98 116.5,250.8C118,248.62 119.67,245.95 121,245.1C122.33,244.25 123.17,244.65 124.5,245.7C125.83,246.75 127.5,248.57 129,251.4C130.5,254.23 132.17,259.68 133.5,262.7C134.83,265.72 136.08,268.15 137,269.5C137.92,270.85 137.68,270.97 139,270.8C140.32,270.63 142.95,269.37 144.9,268.5C146.85,267.63 149.13,265.88 150.7,265.6C152.27,265.32 153.02,266.18 154.3,266.8C155.58,267.42 157.13,269.12 158.4,269.3C159.67,269.48 160.83,269.3 161.9,267.9C162.97,266.5 163.82,263.63 164.8,260.9C165.78,258.17 166.82,254.43 167.8,251.5C168.78,248.57 169.73,245.55 170.7,243.3C171.67,241.05 172.62,238.98 173.6,238C174.58,237.02 175.52,237.27 176.6,237.4C177.68,237.53 178.93,238.22 180.1,238.8C181.27,239.38 182.62,239.87 183.6,240.9C184.58,241.93 185.22,243.23 186,245C186.78,246.77 187.42,249.15 188.3,251.5C189.18,253.85 190.32,257.15 191.3,259.1C192.28,261.05 193.33,262.52 194.2,263.2C195.07,263.88 195.62,263.88 196.5,263.2C197.38,262.52 198.83,260.13 199.5,259.1C200.17,258.07 200.33,257.35 200.5,257" fill="none" stroke="#2222a0" stroke-width="2" stroke-linejoin="round" clip-path="url(#cl2)"/>
<rect x="19.5" y="221.8" width="180.8" height="81.8" fill="none" stroke="#8a8a8a" stroke-width="0.8"/>
<path d="M55.08,303.6v-1.8M55.08,221.8v1.8M91.38,303.6v-1.8M91.38,221.8v1.8M127.69,303.6v-1.8M127.69,221.8v1.8M163.99,303.6v-1.8M163.99,221.8v1.8M200.3,303.6v-1.8M200.3,221.8v1.8M19.5,294.51h1.8M200.3,294.51h-1.8M19.5,276.33h1.8M200.3,276.33h-1.8M19.5,258.16h1.8M200.3,258.16h-1.8M19.5,239.98h1.8M200.3,239.98h-1.8M19.5,221.8h1.8M200.3,221.8h-1.8" stroke="#8a8a8a" stroke-width="0.7" fill="none"/>
<g font-family='"Liberation Sans", sans-serif' font-size="6.6" fill="#404040"><text x="55.08" y="312.8" text-anchor="middle">50</text><text x="91.38" y="312.8" text-anchor="middle">100</text><text x="127.69" y="312.8" text-anchor="middle">150</text><text x="163.99" y="312.8" text-anchor="middle">200</text><text x="200.3" y="312.8" text-anchor="middle">250</text><text x="17.3" y="296.91" text-anchor="end">9</text><text x="17.3" y="278.73" text-anchor="end">10</text><text x="17.3" y="260.56" text-anchor="end">11</text><text x="17.3" y="242.38" text-anchor="end">12</text><text x="17.3" y="224.2" text-anchor="end">13</text></g>
<text x="109.9" y="219.1" text-anchor="middle" font-family='"Liberation Sans", sans-serif' font-size="6.9" font-weight="bold" fill="#222">SNR = &#160;2</text>
<path d="M19.5,396.55 20.22,406.94 20.95,399.77 21.67,419.64 22.39,405.28 23.12,352.07 23.84,398.92 24.56,402.15 25.29,386.59 26.01,382.94 26.73,419.22 27.46,400.94 28.18,378.21 28.9,390.74 29.62,392.91 30.35,363.01 31.07,405.83 31.79,388.3 32.52,397.6 33.24,354.33 33.96,419.92 34.69,391.05 35.41,385.12 36.13,358.41 36.86,357.01 37.58,339.08 38.3,396.67 39.03,348.8 39.75,368.62 40.47,375.32 41.2,350.73 41.92,379.63 42.64,402.63 43.37,368.48 44.09,391.07 44.81,374.18 45.54,353.88 46.26,355.18 46.98,329.77 47.7,365.56 48.43,392.26 49.15,376.73 49.87,379.97 50.6,385.89 51.32,352.77 52.04,374.28 52.77,400.81 53.49,347.21 54.21,363.24 54.94,353.74 55.66,358.61 56.38,347.94 57.11,359.67 57.83,335.63 58.55,351.99 59.28,353.14 60,353.75 60.72,392.57 61.45,368.76 62.17,373.11 62.89,366.56 63.62,400.82 64.34,343.92 65.06,377.33 65.78,406.21 66.51,418.4 67.23,391.73 67.95,389.38 68.68,403.06 69.4,387.62 70.12,402.74 70.85,379.09 71.57,404.61 72.29,390.74 73.02,370.14 73.74,337.96 74.46,409.15 75.19,397.9 75.91,405.02 76.63,372.17 77.36,410.46 78.08,396.87 78.8,387.48 79.53,406.11 80.25,405.15 80.97,394.65 81.7,425.82 82.42,410.9 83.14,388 83.86,374.3 84.59,378.56 85.31,408.21 86.03,380.44 86.76,354.28 87.48,358.9 88.2,372 88.93,389.11 89.65,360.09 90.37,385.87 91.1,399.36 91.82,393.68 92.54,350.22 93.27,376.13 93.99,358.48 94.71,392.14 95.44,364.45 96.16,395.68 96.88,387.06 97.61,334.29 98.33,368.64 99.05,393.87 99.78,385.36 100.5,376.9 101.22,358.95 101.94,392.66 102.67,417.42 103.39,387.93 104.11,381.76 104.84,379.55 105.56,354.89 106.28,374.03 107.01,362.78 107.73,399.21 108.45,357.48 109.18,330.14 109.9,353.51 110.62,360.65 111.35,359.4 112.07,323.63 112.79,375.05 113.52,356.2 114.24,342.61 114.96,335.17 115.69,357.4 116.41,341.47 117.13,352.43 117.86,343.98 118.58,348.75 119.3,368.81 120.02,346.39 120.75,328.48 121.47,365.45 122.19,351.04 122.92,333.04 123.64,367.81 124.36,342.84 125.09,367.72 125.81,323.85 126.53,300.36 127.26,306.42 127.98,351.81 128.7,333.67 129.43,347.6 130.15,350.03 130.87,323.61 131.6,383.72 132.32,339.19 133.04,364.22 133.77,337.89 134.49,364.87 135.21,384.3 135.94,367.18 136.66,359.48 137.38,374.58 138.1,366.29 138.83,386.92 139.55,419.36 140.27,358.69 141,362.54 141.72,373.29 142.44,374.55 143.17,354.82 143.89,384.29 144.61,388.88 145.34,378.15 146.06,350.25 146.78,401.45 147.51,349.59 148.23,385.94 148.95,394.93 149.68,347.51 150.4,374.45 151.12,398.33 151.85,379.35 152.57,353.41 153.29,348.05 154.02,380.29 154.74,363.49 155.46,357.21 156.18,384.25 156.91,364.13 157.63,371.74 158.35,381.7 159.08,380.69 159.8,369.39 160.52,370 161.25,381.77 161.97,378.84 162.69,347.85 163.42,365.41 164.14,351.2 164.86,343.61 165.59,354.07 166.31,318.12 167.03,377.28 167.76,341.54 168.48,360.84 169.2,314.13 169.93,314.12 170.65,384.34 171.37,362.1 172.1,327.29 172.82,323 173.54,322.67 174.26,337.77 174.99,326.51 175.71,322.06 176.43,336.39 177.16,314.16 177.88,379.86 178.6,322.06 179.33,355.5 180.05,315.77 180.77,339.7 181.5,353.28 182.22,328.74 182.94,355.61 183.67,357.3 184.39,372.55 185.11,344.31 185.84,336.71 186.56,329.19 187.28,355.47 188.01,334.53 188.73,357.72 189.45,362.19 190.18,350.73 190.9,342.52 191.62,371.61 192.34,370.41 193.07,369.2 193.79,364.52 194.51,384.17 195.24,345.44 195.96,373.73 196.68,356.14 197.41,381.51 198.13,357.43 198.85,356.38 199.58,372.24 200.3,323.07" fill="none" stroke="#cfcfcf" stroke-width="0.55" clip-path="url(#cl3)"/>
<path d="M19.5,387.93 22.56,387.89 25.63,387.8 28.69,387.65 31.76,387.46 34.82,387.21 37.89,386.91 40.95,386.57 44.02,386.18 47.08,385.74 50.14,385.26 53.21,384.73 56.27,384.16 59.34,383.55 62.4,382.91 65.47,382.23 68.53,381.52 71.59,380.79 74.66,380.03 77.72,379.25 80.79,378.46 83.85,377.66 86.92,376.84 89.98,376.02 93.05,375.2 96.11,374.38 99.17,373.57 102.24,372.76 105.3,371.97 108.37,371.18 111.43,370.42 114.5,369.66 117.56,368.93 120.63,368.21 123.69,367.51 126.75,366.84 129.82,366.19 132.88,365.56 135.95,364.96 139.01,364.38 142.08,363.84 145.14,363.33 148.21,362.85 151.27,362.4 154.33,361.98 157.4,361.61 160.46,361.27 163.53,360.97 166.59,360.71 169.66,360.5 172.72,360.33 175.78,360.2 178.85,360.12 181.91,360.09 184.98,360.11 188.04,360.18 191.11,360.31 194.17,360.49 197.24,360.72 200.3,361.01" fill="none" stroke="#c8b2b2" stroke-width="1.3" clip-path="url(#cl3)"/>
<path d="M19.5,398.38 20.22,398.24 20.95,398.1 21.67,397.95 22.39,397.81 23.12,397.67 23.84,397.53 24.56,397.38 25.29,397.24 26.01,397.1 26.73,396.95 27.46,396.8 28.18,396.57 28.9,396.14 29.62,395.35 30.35,394.08 31.07,392.28 31.79,389.96 32.52,387.2 33.24,384.13 33.96,380.89 34.69,377.65 35.41,374.54 36.13,371.67 36.86,369.14 37.58,366.97 38.3,365.2 39.03,363.8 39.75,362.75 40.47,362.01 41.2,361.52 41.92,361.23 42.64,361.1 43.37,361.07 44.09,361.12 44.81,361.21 45.54,361.31 46.26,361.41 46.98,361.5 47.7,361.57 48.43,361.6 49.15,361.61 49.87,361.59 50.6,361.54 51.32,361.47 52.04,361.38 52.77,361.27 53.49,361.15 54.21,361.02 54.94,360.87 55.66,360.73 56.38,360.57 57.11,360.43 57.83,360.35 58.55,360.49 59.28,360.98 60,361.95 60.72,363.45 61.45,365.47 62.17,367.93 62.89,370.71 63.62,373.65 64.34,376.6 65.06,379.41 65.78,381.99 66.51,384.23 67.23,386.1 67.95,387.59 68.68,388.7 69.4,389.46 70.12,389.92 70.85,390.12 71.57,390.13 72.29,389.97 73.02,389.71 73.74,389.38 74.46,389.01 75.19,388.62 75.91,388.23 76.63,387.86 77.36,387.51 78.08,387.19 78.8,386.89 79.53,386.54 80.25,386.01 80.97,385.14 81.7,383.82 82.42,382 83.14,379.74 83.86,377.27 84.59,374.84 85.31,372.74 86.03,371.16 86.76,370.24 87.48,370.01 88.2,370.42 88.93,371.37 89.65,372.71 90.37,374.29 91.1,375.98 91.82,377.64 92.54,379.18 93.27,380.53 93.99,381.66 94.71,382.55 95.44,383.21 96.16,383.65 96.88,383.91 97.61,384.01 98.33,383.98 99.05,383.85 99.78,383.66 100.5,383.42 101.22,383.16 101.94,382.88 102.67,382.6 103.39,382.33 104.11,382.07 104.84,381.74 105.56,381.22 106.28,380.36 107.01,379.03 107.73,377.19 108.45,374.84 109.18,372.06 109.9,368.97 110.62,365.72 111.35,362.48 112.07,359.37 112.79,356.51 113.52,353.97 114.24,351.82 114.96,350.05 115.69,348.66 116.41,347.62 117.13,346.88 117.86,346.39 118.58,346.11 119.3,345.98 120.02,345.96 120.75,346.02 121.47,346.11 122.19,346.22 122.92,346.33 123.64,346.42 124.36,346.49 125.09,346.53 125.81,346.54 126.53,346.61 127.26,346.85 127.98,347.43 128.7,348.47 129.43,350.02 130.15,352.07 130.87,354.56 131.6,357.35 132.32,360.29 133.04,363.24 133.77,366.05 134.49,368.62 135.21,370.85 135.94,372.72 136.66,374.19 137.38,375.29 138.1,376.04 138.83,376.49 139.55,376.69 140.27,376.68 141,376.52 141.72,376.26 142.44,375.92 143.17,375.54 143.89,375.15 144.61,374.76 145.34,374.38 146.06,374.03 146.78,373.71 147.51,373.42 148.23,373.15 148.95,372.92 149.68,372.7 150.4,372.51 151.12,372.34 151.85,372.17 152.57,372.02 153.29,371.88 154.02,371.75 154.74,371.61 155.46,371.49 156.18,371.36 156.91,371.23 157.63,371.11 158.35,370.98 159.08,370.85 159.8,370.73 160.52,370.6 161.25,370.47 161.97,370.33 162.69,370.11 163.42,369.68 164.14,368.9 164.86,367.64 165.59,365.84 166.31,363.53 167.03,360.78 167.76,357.71 168.48,354.47 169.2,351.23 169.93,348.13 170.65,345.26 171.37,342.73 172.1,340.57 172.82,338.8 173.54,337.4 174.26,336.35 174.99,335.61 175.71,335.12 176.43,334.84 177.16,334.7 177.88,334.68 178.6,334.73 179.33,334.82 180.05,334.94 180.77,335.12 181.5,335.51 182.22,336.22 182.94,337.38 183.67,339.05 184.39,341.21 185.11,343.78 185.84,346.64 186.56,349.65 187.28,352.64 188.01,355.49 188.73,358.08 189.45,360.33 190.18,362.2 190.9,363.68 191.62,364.78 192.34,365.54 193.07,365.98 193.79,366.17 194.51,366.16 195.24,366 195.96,365.73 196.68,365.38 197.41,365 198.13,364.6 198.85,364.21 199.58,363.83 200.3,363.48" fill="none" stroke="#474747" stroke-width="1.1" stroke-dasharray="4.5,2.8" clip-path="url(#cl3)"/>
<path d="M19.5,387.2C20.17,387.62 22.25,388.92 23.5,389.7C24.75,390.48 25.85,392.38 27,391.9C28.15,391.42 29.27,389.45 30.4,386.8C31.53,384.15 32.67,379.22 33.8,376C34.93,372.78 36.17,369.38 37.2,367.5C38.23,365.62 39.05,364.6 40,364.7C40.95,364.8 41.85,366.3 42.9,368.1C43.95,369.9 45.27,373.9 46.3,375.5C47.33,377.1 48.07,377.8 49.1,377.7C50.13,377.6 51.27,375.75 52.5,374.9C53.73,374.05 55.17,372.6 56.5,372.6C57.83,372.6 59.27,373.28 60.5,374.9C61.73,376.52 62.77,379.65 63.9,382.3C65.03,384.95 66.27,389.48 67.3,390.8C68.33,392.12 69.07,391.15 70.1,390.2C71.13,389.25 72.02,386.43 73.5,385.1C74.98,383.77 77.52,383.65 79,382.2C80.48,380.75 81.27,377.9 82.4,376.4C83.53,374.9 84.75,373.3 85.8,373.2C86.85,373.1 87.75,374.42 88.7,375.8C89.65,377.18 90.57,379.8 91.5,381.5C92.43,383.2 93.35,385.62 94.3,386C95.25,386.38 96.15,384.93 97.2,383.8C98.25,382.67 99.47,380.25 100.6,379.2C101.73,378.15 102.97,378.17 104,377.5C105.03,376.83 105.85,376.9 106.8,375.2C107.75,373.5 108.65,370.33 109.7,367.3C110.75,364.27 111.97,360.13 113.1,357C114.23,353.87 115.47,350.2 116.5,348.5C117.53,346.8 118.25,346.8 119.3,346.8C120.35,346.8 121.57,347.37 122.8,348.5C124.03,349.63 125.57,351.88 126.7,353.6C127.83,355.32 128.65,356.72 129.6,358.8C130.55,360.88 131.37,364.02 132.4,366.1C133.43,368.18 134.7,370.32 135.8,371.3C136.9,372.28 137.88,371.55 139,372C140.12,372.45 141.33,373.4 142.5,374C143.67,374.6 144.82,375.7 146,375.6C147.18,375.5 148.42,374.53 149.6,373.4C150.78,372.27 151.93,370.17 153.1,368.8C154.27,367.43 155.43,365.5 156.6,365.2C157.77,364.9 159.02,367 160.1,367C161.18,367 162.22,366.87 163.1,365.2C163.98,363.53 164.52,359.93 165.4,357C166.28,354.07 167.32,350.23 168.4,347.6C169.48,344.97 170.73,342.87 171.9,341.2C173.07,339.53 174.33,338.3 175.4,337.6C176.47,336.9 177.22,336.7 178.3,337C179.38,337.3 180.72,337.92 181.9,339.4C183.08,340.88 184.33,343.35 185.4,345.9C186.47,348.45 187.32,351.67 188.3,354.7C189.28,357.73 190.32,361.37 191.3,364.1C192.28,366.83 193.23,369.73 194.2,371.1C195.17,372.47 196.05,372.6 197.1,372.3C198.15,372 199.93,369.8 200.5,369.3" fill="none" stroke="#2222a0" stroke-width="2" stroke-linejoin="round" clip-path="url(#cl3)"/>
<rect x="19.5" y="325.7" width="180.8" height="81.8" fill="none" stroke="#8a8a8a" stroke-width="0.8"/>
<path d="M55.08,407.5v-1.8M55.08,325.7v1.8M91.38,407.5v-1.8M91.38,325.7v1.8M127.69,407.5v-1.8M127.69,325.7v1.8M163.99,407.5v-1.8M163.99,325.7v1.8M200.3,407.5v-1.8M200.3,325.7v1.8M19.5,398.41h1.8M200.3,398.41h-1.8M19.5,380.23h1.8M200.3,380.23h-1.8M19.5,362.06h1.8M200.3,362.06h-1.8M19.5,343.88h1.8M200.3,343.88h-1.8M19.5,325.7h1.8M200.3,325.7h-1.8" stroke="#8a8a8a" stroke-width="0.7" fill="none"/>
<g font-family='"Liberation Sans", sans-serif' font-size="6.6" fill="#404040"><text x="55.08" y="416.7" text-anchor="middle">50</text><text x="91.38" y="416.7" text-anchor="middle">100</text><text x="127.69" y="416.7" text-anchor="middle">150</text><text x="163.99" y="416.7" text-anchor="middle">200</text><text x="200.3" y="416.7" text-anchor="middle">250</text><text x="17.3" y="400.81" text-anchor="end">9</text><text x="17.3" y="382.63" text-anchor="end">10</text><text x="17.3" y="364.46" text-anchor="end">11</text><text x="17.3" y="346.28" text-anchor="end">12</text><text x="17.3" y="328.1" text-anchor="end">13</text></g>
<text x="109.9" y="323" text-anchor="middle" font-family='"Liberation Sans", sans-serif' font-size="6.9" font-weight="bold" fill="#222">SNR = &#160;1</text>
<path d="M19.5,487.35 20.22,430.98 20.95,463.54 21.67,528.24 22.39,516.9 23.12,484.03 23.84,498.88 24.56,499.2 25.29,512.48 26.01,573.22 26.73,509.77 27.46,589.31 28.18,485.51 28.9,528.98 29.62,527.76 30.35,506.65 31.07,485.17 31.79,551.03 32.52,560.93 33.24,530.56 33.96,566.34 34.69,520.11 35.41,414.72 36.13,517.73 36.86,446.89 37.58,525.63 38.3,457.04 39.03,480.39 39.75,468.95 40.47,443.06 41.2,395.08 41.92,457.24 42.64,459.92 43.37,503.8 44.09,441.59 44.81,474.85 45.54,431.84 46.26,466.96 46.98,395.68 47.7,544.66 48.43,477.26 49.15,430.16 49.87,479.41 50.6,497.02 51.32,475.9 52.04,520.37 52.77,460.31 53.49,367.35 54.21,419.02 54.94,509.02 55.66,499.45 56.38,480.56 57.11,424.06 57.83,497 58.55,491.89 59.28,429.4 60,431.17 60.72,482.2 61.45,513.97 62.17,533.71 62.89,502.46 63.62,566.65 64.34,450.41 65.06,508.41 65.78,466.54 66.51,413.31 67.23,442.99 67.95,537.42 68.68,457.74 69.4,446.95 70.12,523.57 70.85,532.05 71.57,498.31 72.29,557.82 73.02,434.7 73.74,589.37 74.46,537.07 75.19,503.2 75.91,501.11 76.63,485.01 77.36,480.45 78.08,499.53 78.8,445.22 79.53,575.89 80.25,489.81 80.97,517.52 81.7,482.33 82.42,476.97 83.14,520.01 83.86,506.7 84.59,446.95 85.31,462.58 86.03,502.17 86.76,392.47 87.48,381.47 88.2,532.71 88.93,463.1 89.65,376.17 90.37,446.74 91.1,470.94 91.82,489.76 92.54,504.62 93.27,492.83 93.99,507.49 94.71,456.56 95.44,502.93 96.16,505.1 96.88,535.78 97.61,489.79 98.33,523.53 99.05,494.88 99.78,445.8 100.5,472.59 101.22,466.77 101.94,472.44 102.67,484.04 103.39,491.23 104.11,498.18 104.84,455.18 105.56,528.38 106.28,430.54 107.01,481.47 107.73,510.93 108.45,498.2 109.18,502.93 109.9,466.36 110.62,498.23 111.35,420.6 112.07,494.43 112.79,551.19 113.52,487.01 114.24,535.94 114.96,455.44 115.69,410.1 116.41,425.51 117.13,504.17 117.86,480.68 118.58,378.78 119.3,437.05 120.02,449.6 120.75,407.58 121.47,351.82 122.19,398.17 122.92,444.55 123.64,436.04 124.36,425.61 125.09,474.83 125.81,492.68 126.53,448.31 127.26,488.53 127.98,453.69 128.7,448.42 129.43,360.2 130.15,489.91 130.87,463.23 131.6,467.72 132.32,446.6 133.04,425.18 133.77,489.47 134.49,505.26 135.21,540.27 135.94,513.56 136.66,456.54 137.38,477.27 138.1,520.45 138.83,495.2 139.55,479.23 140.27,460.34 141,504.05 141.72,490.07 142.44,552.44 143.17,525.38 143.89,414.25 144.61,566.06 145.34,491.69 146.06,469.06 146.78,492.48 147.51,509.54 148.23,479.4 148.95,476.92 149.68,479.79 150.4,551.4 151.12,482.03 151.85,510.17 152.57,497.73 153.29,466.6 154.02,449.92 154.74,439.55 155.46,495.14 156.18,438.21 156.91,428.09 157.63,429.45 158.35,419.2 159.08,480.48 159.8,481.49 160.52,441.4 161.25,528.91 161.97,465.75 162.69,495.13 163.42,488.23 164.14,542.34 164.86,507.05 165.59,470.46 166.31,431.8 167.03,424.98 167.76,464.72 168.48,465.84 169.2,488.25 169.93,435.83 170.65,458.96 171.37,422.3 172.1,374.32 172.82,443.89 173.54,501.08 174.26,474.58 174.99,497.72 175.71,486.79 176.43,386.44 177.16,429.44 177.88,499.28 178.6,412.39 179.33,388.22 180.05,453.13 180.77,465.96 181.5,452.8 182.22,428.64 182.94,415.59 183.67,395.57 184.39,396.52 185.11,400.17 185.84,395.98 186.56,427 187.28,517.66 188.01,464.52 188.73,449.32 189.45,479.45 190.18,429.56 190.9,481.89 191.62,505.61 192.34,411.58 193.07,443.15 193.79,461.21 194.51,432.9 195.24,427.31 195.96,455.89 196.68,567.47 197.41,495.82 198.13,486.66 198.85,507.37 199.58,459.69 200.3,419.6" fill="none" stroke="#cfcfcf" stroke-width="0.55" clip-path="url(#cl4)"/>
<path d="M19.5,484.79 22.56,484.65 25.63,484.44 28.69,484.18 31.76,483.87 34.82,483.51 37.89,483.12 40.95,482.71 44.02,482.28 47.08,481.84 50.14,481.4 53.21,480.97 56.27,480.56 59.34,480.17 62.4,479.82 65.47,479.51 68.53,479.25 71.59,479.02 74.66,478.83 77.72,478.65 80.79,478.5 83.85,478.35 86.92,478.2 89.98,478.04 93.05,477.86 96.11,477.67 99.17,477.44 102.24,477.17 105.3,476.85 108.37,476.48 111.43,476.04 114.5,475.55 117.56,475 120.63,474.42 123.69,473.8 126.75,473.15 129.82,472.46 132.88,471.73 135.95,470.93 139.01,470.08 142.08,469.16 145.14,468.18 148.21,467.15 151.27,466.09 154.33,465.02 157.4,463.94 160.46,462.88 163.53,461.84 166.59,460.84 169.66,459.9 172.72,459 175.78,458.15 178.85,457.35 181.91,456.59 184.98,455.88 188.04,455.21 191.11,454.59 194.17,454 197.24,453.46 200.3,452.96" fill="none" stroke="#c8b2b2" stroke-width="1.3" clip-path="url(#cl4)"/>
<path d="M19.5,502.18 20.22,502.04 20.95,501.9 21.67,501.75 22.39,501.61 23.12,501.47 23.84,501.33 24.56,501.18 25.29,501.04 26.01,500.9 26.73,500.75 27.46,500.6 28.18,500.37 28.9,499.94 29.62,499.15 30.35,497.88 31.07,496.08 31.79,493.76 32.52,491 33.24,487.93 33.96,484.69 34.69,481.45 35.41,478.34 36.13,475.47 36.86,472.94 37.58,470.77 38.3,469 39.03,467.6 39.75,466.55 40.47,465.81 41.2,465.32 41.92,465.03 42.64,464.9 43.37,464.87 44.09,464.92 44.81,465.01 45.54,465.11 46.26,465.21 46.98,465.3 47.7,465.37 48.43,465.4 49.15,465.41 49.87,465.39 50.6,465.34 51.32,465.27 52.04,465.18 52.77,465.07 53.49,464.95 54.21,464.82 54.94,464.67 55.66,464.53 56.38,464.37 57.11,464.23 57.83,464.15 58.55,464.29 59.28,464.78 60,465.75 60.72,467.25 61.45,469.27 62.17,471.73 62.89,474.51 63.62,477.45 64.34,480.4 65.06,483.21 65.78,485.79 66.51,488.03 67.23,489.9 67.95,491.39 68.68,492.5 69.4,493.26 70.12,493.72 70.85,493.92 71.57,493.93 72.29,493.77 73.02,493.51 73.74,493.18 74.46,492.81 75.19,492.42 75.91,492.03 76.63,491.66 77.36,491.31 78.08,490.99 78.8,490.69 79.53,490.34 80.25,489.81 80.97,488.94 81.7,487.62 82.42,485.8 83.14,483.54 83.86,481.07 84.59,478.64 85.31,476.54 86.03,474.96 86.76,474.04 87.48,473.81 88.2,474.22 88.93,475.17 89.65,476.51 90.37,478.09 91.1,479.78 91.82,481.44 92.54,482.98 93.27,484.33 93.99,485.46 94.71,486.35 95.44,487.01 96.16,487.45 96.88,487.71 97.61,487.81 98.33,487.78 99.05,487.65 99.78,487.46 100.5,487.22 101.22,486.96 101.94,486.68 102.67,486.4 103.39,486.13 104.11,485.87 104.84,485.54 105.56,485.02 106.28,484.16 107.01,482.83 107.73,480.99 108.45,478.64 109.18,475.86 109.9,472.77 110.62,469.52 111.35,466.28 112.07,463.17 112.79,460.31 113.52,457.77 114.24,455.62 114.96,453.85 115.69,452.46 116.41,451.42 117.13,450.68 117.86,450.19 118.58,449.91 119.3,449.78 120.02,449.76 120.75,449.82 121.47,449.91 122.19,450.02 122.92,450.13 123.64,450.22 124.36,450.29 125.09,450.33 125.81,450.34 126.53,450.41 127.26,450.65 127.98,451.23 128.7,452.27 129.43,453.82 130.15,455.87 130.87,458.36 131.6,461.15 132.32,464.09 133.04,467.04 133.77,469.85 134.49,472.42 135.21,474.65 135.94,476.52 136.66,477.99 137.38,479.09 138.1,479.84 138.83,480.29 139.55,480.49 140.27,480.48 141,480.32 141.72,480.06 142.44,479.72 143.17,479.34 143.89,478.95 144.61,478.56 145.34,478.18 146.06,477.83 146.78,477.51 147.51,477.22 148.23,476.95 148.95,476.72 149.68,476.5 150.4,476.31 151.12,476.14 151.85,475.97 152.57,475.82 153.29,475.68 154.02,475.55 154.74,475.41 155.46,475.29 156.18,475.16 156.91,475.03 157.63,474.91 158.35,474.78 159.08,474.65 159.8,474.53 160.52,474.4 161.25,474.27 161.97,474.13 162.69,473.91 163.42,473.48 164.14,472.7 164.86,471.44 165.59,469.64 166.31,467.33 167.03,464.58 167.76,461.51 168.48,458.27 169.2,455.03 169.93,451.93 170.65,449.06 171.37,446.53 172.1,444.37 172.82,442.6 173.54,441.2 174.26,440.15 174.99,439.41 175.71,438.92 176.43,438.64 177.16,438.5 177.88,438.48 178.6,438.53 179.33,438.62 180.05,438.74 180.77,438.92 181.5,439.31 182.22,440.02 182.94,441.18 183.67,442.85 184.39,445.01 185.11,447.58 185.84,450.44 186.56,453.45 187.28,456.44 188.01,459.29 188.73,461.88 189.45,464.13 190.18,466 190.9,467.48 191.62,468.58 192.34,469.34 193.07,469.78 193.79,469.97 194.51,469.96 195.24,469.8 195.96,469.53 196.68,469.18 197.41,468.8 198.13,468.4 198.85,468.01 199.58,467.63 200.3,467.28" fill="none" stroke="#474747" stroke-width="1.1" stroke-dasharray="4.5,2.8" clip-path="url(#cl4)"/>
<path d="M19.5,484.6C20.17,484.88 22.25,485.55 23.5,486.3C24.75,487.05 25.85,488.53 27,489.1C28.15,489.67 29.37,489.98 30.4,489.7C31.43,489.42 32.27,489.02 33.2,487.4C34.13,485.78 35.05,482.75 36,480C36.95,477.25 37.95,473.32 38.9,470.9C39.85,468.48 40.67,466.48 41.7,465.5C42.73,464.52 43.77,464.95 45.1,465C46.43,465.05 48.47,465.38 49.7,465.8C50.93,466.22 51.55,466.47 52.5,467.5C53.45,468.53 54.35,471.02 55.4,472C56.45,472.98 57.77,473.2 58.8,473.4C59.83,473.6 60.75,472.85 61.6,473.2C62.45,473.55 63.05,473.8 63.9,475.5C64.75,477.2 65.75,480.75 66.7,483.4C67.65,486.05 68.75,489.38 69.6,491.4C70.45,493.42 71.13,494.52 71.8,495.5C72.47,496.48 72.98,497.3 73.6,497.3C74.22,497.3 74.82,497.02 75.5,495.5C76.18,493.98 76.95,490.78 77.7,488.2C78.45,485.62 79.23,482.88 80,480C80.77,477.12 81.55,473.63 82.3,470.9C83.05,468.17 83.82,465.18 84.5,463.6C85.18,462.02 85.78,461.47 86.4,461.4C87.02,461.33 87.6,461.92 88.2,463.2C88.8,464.48 89.32,466.75 90,469.1C90.68,471.45 91.55,475.03 92.3,477.3C93.05,479.57 93.67,481.12 94.5,482.7C95.33,484.28 96.38,485.73 97.3,486.8C98.22,487.87 99.17,488.68 100,489.1C100.83,489.52 101.55,489.75 102.3,489.3C103.05,488.85 103.67,487.8 104.5,486.4C105.33,485 106.33,482.55 107.3,480.9C108.27,479.25 109.27,477.67 110.3,476.5C111.33,475.33 112.55,475.72 113.5,473.9C114.45,472.08 115.17,469.1 116,465.6C116.83,462.1 117.55,457.13 118.5,452.9C119.45,448.67 120.58,443.13 121.7,440.2C122.82,437.27 124.13,435.3 125.2,435.3C126.27,435.3 127.2,437.27 128.1,440.2C129,443.13 129.87,448.23 130.6,452.9C131.33,457.57 131.85,463.53 132.5,468.2C133.15,472.87 133.75,477.08 134.5,480.9C135.25,484.72 136.08,488.98 137,491.1C137.92,493.22 138.65,493.3 140,493.6C141.35,493.9 143.83,493.43 145.1,492.9C146.37,492.37 146.75,492.1 147.6,490.4C148.45,488.7 149.23,485.47 150.2,482.7C151.17,479.93 152.35,476.98 153.4,473.8C154.45,470.62 155.45,467.1 156.5,463.6C157.55,460.1 158.73,455.6 159.7,452.8C160.67,450 161.33,447.75 162.3,446.8C163.27,445.85 164.55,446.88 165.5,447.1C166.45,447.32 167.15,448.32 168,448.1C168.85,447.88 169.75,447.45 170.6,445.8C171.45,444.15 172.15,440.15 173.1,438.2C174.05,436.25 175.23,434.53 176.3,434.1C177.37,433.67 178.45,434.38 179.5,435.6C180.55,436.82 181.65,438.85 182.6,441.4C183.55,443.95 184.45,447.4 185.2,450.9C185.95,454.4 186.47,458.78 187.1,462.4C187.73,466.02 188.37,471.02 189,472.6C189.63,474.18 190.27,473.4 190.9,471.9C191.53,470.4 192.05,466.67 192.8,463.6C193.55,460.53 194.65,455.3 195.4,453.5C196.15,451.7 196.57,451.95 197.3,452.8C198.03,453.65 199.17,457.32 199.8,458.6C200.43,459.88 200.88,460.18 201.1,460.5" fill="none" stroke="#2222a0" stroke-width="2" stroke-linejoin="round" clip-path="url(#cl4)"/>
<rect x="19.5" y="429.5" width="180.8" height="81.8" fill="none" stroke="#8a8a8a" stroke-width="0.8"/>
<path d="M55.08,511.3v-1.8M55.08,429.5v1.8M91.38,511.3v-1.8M91.38,429.5v1.8M127.69,511.3v-1.8M127.69,429.5v1.8M163.99,511.3v-1.8M163.99,429.5v1.8M200.3,511.3v-1.8M200.3,429.5v1.8M19.5,502.21h1.8M200.3,502.21h-1.8M19.5,484.03h1.8M200.3,484.03h-1.8M19.5,465.86h1.8M200.3,465.86h-1.8M19.5,447.68h1.8M200.3,447.68h-1.8M19.5,429.5h1.8M200.3,429.5h-1.8" stroke="#8a8a8a" stroke-width="0.7" fill="none"/>
<g font-family='"Liberation Sans", sans-serif' font-size="6.6" fill="#404040"><text x="55.08" y="520.5" text-anchor="middle">50</text><text x="91.38" y="520.5" text-anchor="middle">100</text><text x="127.69" y="520.5" text-anchor="middle">150</text><text x="163.99" y="520.5" text-anchor="middle">200</text><text x="200.3" y="520.5" text-anchor="middle">250</text><text x="17.3" y="504.61" text-anchor="end">9</text><text x="17.3" y="486.43" text-anchor="end">10</text><text x="17.3" y="468.26" text-anchor="end">11</text><text x="17.3" y="450.08" text-anchor="end">12</text><text x="17.3" y="431.9" text-anchor="end">13</text></g>
<text x="109.9" y="426.8" text-anchor="middle" font-family='"Liberation Sans", sans-serif' font-size="6.9" font-weight="bold" fill="#222">SNR = &#160;0.5</text>
<g font-family='"Liberation Sans", sans-serif' font-size="6.3" fill="#3c3c3c"><rect x="149.4" y="66.4" width="62.6" height="32.4" fill="#fff" stroke="#9a9a9a" stroke-width="0.8"/><line x1="151.2" y1="71.3" x2="171.8" y2="71.3" stroke="#d2d2d2" stroke-width="0.8"/><line x1="151.2" y1="79" x2="171.8" y2="79" stroke="#474747" stroke-width="1.1" stroke-dasharray="5,3"/><line x1="151.2" y1="86.7" x2="171.8" y2="86.7" stroke="#2222a0" stroke-width="2"/><line x1="151.2" y1="94.4" x2="171.8" y2="94.4" stroke="#c8b2b2" stroke-width="0.9"/><text transform="translate(173.1,73.9) scale(0.915,1)">Noisy</text><text transform="translate(173.1,81.6) scale(0.915,1)">Clean</text><text transform="translate(173.1,89.3) scale(0.915,1)">Reconstructed</text><text transform="translate(173.1,97) scale(0.915,1)">Baseline</text></g>
<g font-family='"Liberation Sans", sans-serif' font-size="6.3" fill="#3c3c3c"><rect x="156.7" y="170.2" width="63.3" height="32.1" fill="#fff" stroke="#9a9a9a" stroke-width="0.8"/><line x1="158.5" y1="175.1" x2="179.1" y2="175.1" stroke="#d2d2d2" stroke-width="0.8"/><line x1="158.5" y1="182.8" x2="179.1" y2="182.8" stroke="#474747" stroke-width="1.1" stroke-dasharray="5,3"/><line x1="158.5" y1="190.5" x2="179.1" y2="190.5" stroke="#2222a0" stroke-width="2"/><line x1="158.5" y1="198.2" x2="179.1" y2="198.2" stroke="#c8b2b2" stroke-width="0.9"/><text transform="translate(180.4,177.7) scale(0.915,1)">Noisy</text><text transform="translate(180.4,185.4) scale(0.915,1)">Clean</text><text transform="translate(180.4,193.1) scale(0.915,1)">Reconstructed</text><text transform="translate(180.4,200.8) scale(0.915,1)">Baseline</text></g>
<g font-family='"Liberation Sans", sans-serif' font-size="6.3" fill="#3c3c3c"><rect x="151.6" y="273.3" width="63.1" height="32.2" fill="#fff" stroke="#9a9a9a" stroke-width="0.8"/><line x1="153.4" y1="278.2" x2="174" y2="278.2" stroke="#d2d2d2" stroke-width="0.8"/><line x1="153.4" y1="285.9" x2="174" y2="285.9" stroke="#474747" stroke-width="1.1" stroke-dasharray="5,3"/><line x1="153.4" y1="293.6" x2="174" y2="293.6" stroke="#2222a0" stroke-width="2"/><line x1="153.4" y1="301.3" x2="174" y2="301.3" stroke="#c8b2b2" stroke-width="0.9"/><text transform="translate(175.3,280.8) scale(0.915,1)">Noisy</text><text transform="translate(175.3,288.5) scale(0.915,1)">Clean</text><text transform="translate(175.3,296.2) scale(0.915,1)">Reconstructed</text><text transform="translate(175.3,303.9) scale(0.915,1)">Baseline</text></g>
<g font-family='"Liberation Sans", sans-serif' font-size="6.3" fill="#3c3c3c"><rect x="156.5" y="378.3" width="62.8" height="32.7" fill="#fff" stroke="#9a9a9a" stroke-width="0.8"/><line x1="158.3" y1="383.2" x2="178.9" y2="383.2" stroke="#d2d2d2" stroke-width="0.8"/><line x1="158.3" y1="390.9" x2="178.9" y2="390.9" stroke="#474747" stroke-width="1.1" stroke-dasharray="5,3"/><line x1="158.3" y1="398.6" x2="178.9" y2="398.6" stroke="#2222a0" stroke-width="2"/><line x1="158.3" y1="406.3" x2="178.9" y2="406.3" stroke="#c8b2b2" stroke-width="0.9"/><text transform="translate(180.2,385.8) scale(0.915,1)">Noisy</text><text transform="translate(180.2,393.5) scale(0.915,1)">Clean</text><text transform="translate(180.2,401.2) scale(0.915,1)">Reconstructed</text><text transform="translate(180.2,408.9) scale(0.915,1)">Baseline</text></g>
<g font-family='"Liberation Sans", sans-serif' font-size="6.3" fill="#3c3c3c"><rect x="157.6" y="482.4" width="62.5" height="32.8" fill="#fff" stroke="#9a9a9a" stroke-width="0.8"/><line x1="159.4" y1="487.3" x2="180" y2="487.3" stroke="#d2d2d2" stroke-width="0.8"/><line x1="159.4" y1="495" x2="180" y2="495" stroke="#474747" stroke-width="1.1" stroke-dasharray="5,3"/><line x1="159.4" y1="502.7" x2="180" y2="502.7" stroke="#2222a0" stroke-width="2"/><line x1="159.4" y1="510.4" x2="180" y2="510.4" stroke="#c8b2b2" stroke-width="0.9"/><text transform="translate(181.3,489.9) scale(0.915,1)">Noisy</text><text transform="translate(181.3,497.6) scale(0.915,1)">Clean</text><text transform="translate(181.3,505.3) scale(0.915,1)">Reconstructed</text><text transform="translate(181.3,513) scale(0.915,1)">Baseline</text></g>
<path d="M240.7,71.17 241.8,71.17 242.91,71.17 244.01,71.17 245.11,71.17 246.21,71.17 247.32,71.17 248.42,71.17 249.52,71.17 250.62,34.63 251.73,34.63 252.83,34.63 253.93,34.63 255.03,34.63 256.14,34.63 257.24,34.63 258.34,34.63 259.44,34.63 260.55,34.63 261.65,34.63 262.75,34.63 263.85,34.63 264.96,34.63 266.06,34.63 267.16,34.63 268.26,34.63 269.36,34.63 270.47,34.63 271.57,34.63 272.67,34.63 273.77,34.63 274.88,34.63 275.98,34.63 277.08,34.63 278.18,34.63 279.29,34.63 280.39,34.63 281.49,34.63 282.59,34.63 283.7,34.63 284.8,34.63 285.9,34.63 287,34.63 288.11,34.63 289.21,34.63 290.31,34.63 291.41,34.63 292.52,34.63 293.62,34.63 294.72,34.63 295.82,71.17 296.92,71.17 298.03,71.17 299.13,71.17 300.23,71.17 301.33,71.17 302.44,71.17 303.54,71.17 304.64,71.17 305.74,71.17 306.85,71.17 307.95,71.17 309.05,71.17 310.15,71.17 311.26,71.17 312.36,71.17 313.46,71.17 314.56,71.17 315.67,71.17 316.77,71.17 317.87,71.17 318.97,71.17 320.08,71.17 321.18,71.17 322.28,71.17 323.38,71.17 324.48,71.17 325.59,71.17 326.69,71.17 327.79,71.17 328.89,34.63 330,34.63 331.1,34.63 332.2,34.63 333.3,34.63 334.41,71.17 335.51,71.17 336.61,71.17 337.71,71.17 338.82,71.17 339.92,71.17 341.02,71.17 342.12,71.17 343.23,71.17 344.33,71.17 345.43,71.17 346.53,71.17 347.64,71.17 348.74,71.17 349.84,71.17 350.94,71.17 352.04,71.17 353.15,71.17 354.25,71.17 355.35,71.17 356.45,71.17 357.56,71.17 358.66,71.17 359.76,71.17 360.86,71.17 361.97,71.17 363.07,71.17 364.17,71.17 365.27,71.17 366.38,71.17 367.48,34.63 368.58,34.63 369.68,34.63 370.79,34.63 371.89,34.63 372.99,34.63 374.09,34.63 375.2,34.63 376.3,34.63 377.4,34.63 378.5,34.63 379.6,34.63 380.71,34.63 381.81,34.63 382.91,34.63 384.01,34.63 385.12,34.63 386.22,34.63 387.32,34.63 388.42,34.63 389.53,34.63 390.63,34.63 391.73,34.63 392.83,34.63 393.94,34.63 395.04,34.63 396.14,34.63 397.24,34.63 398.35,34.63 399.45,34.63 400.55,71.17 401.65,71.17 402.76,71.17 403.86,71.17 404.96,71.17 406.06,71.17 407.16,71.17 408.27,71.17 409.37,71.17 410.47,71.17 411.57,71.17 412.68,71.17 413.78,71.17 414.88,71.17 415.98,71.17 417.09,71.17 418.19,71.17 419.29,71.17 420.39,71.17 421.5,71.17 422.6,71.17 423.7,71.17 424.8,71.17 425.91,71.17 427.01,71.17 428.11,71.17 429.21,71.17 430.32,71.17 431.42,71.17 432.52,71.17 433.62,71.17 434.72,71.17 435.83,71.17 436.93,71.17 438.03,71.17 439.13,71.17 440.24,71.17 441.34,71.17 442.44,71.17 443.54,71.17 444.65,71.17 445.75,71.17 446.85,71.17 447.95,71.17 449.06,71.17 450.16,71.17 451.26,71.17 452.36,71.17 453.47,71.17 454.57,71.17 455.67,34.63 456.77,34.63 457.88,34.63 458.98,34.63 460.08,34.63 461.18,34.63 462.28,34.63 463.39,34.63 464.49,34.63 465.59,34.63 466.69,34.63 467.8,34.63 468.9,34.63 470,34.63 471.1,34.63 472.21,34.63 473.31,34.63 474.41,34.63 475.51,34.63 476.62,34.63 477.72,34.63 478.82,34.63 479.92,34.63 481.03,34.63 482.13,34.63 483.23,71.17 484.33,71.17 485.44,71.17 486.54,71.17 487.64,71.17 488.74,71.17 489.84,71.17 490.95,71.17 492.05,71.17 493.15,71.17 494.25,71.17 495.36,71.17 496.46,71.17 497.56,71.17 498.66,71.17 499.77,71.17 500.87,71.17 501.97,71.17 503.07,71.17 504.18,71.17 505.28,71.17 506.38,71.17 507.48,71.17 508.59,71.17 509.69,71.17 510.79,71.17 511.89,71.17 513,71.17 514.1,71.17 515.2,71.17" fill="none" stroke="#9fbcba" stroke-width="1.1" clip-path="url(#cr0)"/>
<rect x="239.6" y="25.5" width="275.6" height="54.8" fill="none" stroke="#8a8a8a" stroke-width="0.8"/>
<path d="M293.83,80.3v-2.7M293.83,25.5v2.7M349.18,80.3v-2.7M349.18,25.5v2.7M404.52,80.3v-2.7M404.52,25.5v2.7M459.86,80.3v-2.7M459.86,25.5v2.7M515.2,80.3v-2.7M515.2,25.5v2.7M239.6,71.17h2.7M515.2,71.17h-2.7M239.6,52.9h2.7M515.2,52.9h-2.7M239.6,34.63h2.7M515.2,34.63h-2.7" stroke="#8a8a8a" stroke-width="0.7" fill="none"/>
<g font-family='"Liberation Sans", sans-serif' font-size="8.9" fill="#303030" stroke="#303030" stroke-width="0.18"><text x="293.83" y="91.2" text-anchor="middle">50</text><text x="349.18" y="91.2" text-anchor="middle">100</text><text x="404.52" y="91.2" text-anchor="middle">150</text><text x="459.86" y="91.2" text-anchor="middle">200</text><text x="515.2" y="91.2" text-anchor="middle">250</text><text x="236.7" y="74.37" text-anchor="end">0</text><text x="236.7" y="56.1" text-anchor="end">0.5</text><text x="236.7" y="37.83" text-anchor="end">1</text></g>
<text x="377.4" y="21.4" text-anchor="middle" font-family='"Liberation Sans", sans-serif' font-size="9.6" font-weight="bold" fill="#111">Actual</text>
<path d="M240.1,155.8C241.25,153.75 244.7,147.62 247,143.5C249.3,139.38 251.85,133.95 253.9,131.1C255.95,128.25 257.48,127.08 259.3,126.4C261.12,125.72 262.27,126.58 264.8,127C267.33,127.42 271.28,128.68 274.5,128.9C277.72,129.12 281.58,127.93 284.1,128.3C286.62,128.67 287.78,128.8 289.6,131.1C291.42,133.4 292.95,138.67 295,142.1C297.05,145.53 299.6,149.87 301.9,151.7C304.2,153.53 306.52,152.87 308.8,153.1C311.08,153.33 313.55,153.78 315.6,153.1C317.65,152.42 319.27,150.83 321.1,149C322.93,147.17 324.98,143.57 326.6,142.1C328.22,140.63 329.42,139.97 330.8,140.2C332.18,140.43 333.3,141.82 334.9,143.5C336.5,145.18 338.57,148.93 340.4,150.3C342.23,151.67 343.62,151.47 345.9,151.7C348.18,151.93 351.58,152.38 354.1,151.7C356.62,151.02 358.72,150.12 361,147.6C363.28,145.08 365.75,139.82 367.8,136.6C369.85,133.38 371.1,129.9 373.3,128.3C375.5,126.7 378.27,127.13 381,127C383.73,126.87 387.33,126.82 389.7,127.5C392.07,128.18 393.37,128.9 395.2,131.1C397.03,133.3 398.87,137.73 400.7,140.7C402.53,143.67 404.37,147.3 406.2,148.9C408.03,150.5 408.5,150.07 411.7,150.3C414.9,150.53 420.82,150.17 425.4,150.3C429.98,150.43 435.77,150.87 439.2,151.1C442.63,151.33 443.95,152.97 446,151.7C448.05,150.43 449.67,146.48 451.5,143.5C453.33,140.52 455.17,136.33 457,133.8C458.83,131.27 460.2,129.53 462.5,128.3C464.8,127.07 468.52,126.17 470.8,126.4C473.08,126.63 474.38,127.55 476.2,129.7C478.02,131.85 479.87,136.32 481.7,139.3C483.53,142.28 485.37,146 487.2,147.6C489.03,149.2 490.63,148.9 492.7,148.9C494.77,148.9 497.3,148.18 499.6,147.6C501.9,147.02 504.22,145.87 506.5,145.4C508.78,144.93 511.85,144.9 513.3,144.8C514.75,144.7 514.88,144.8 515.2,144.8" fill="none" stroke="#86a5a7" stroke-width="1.1" clip-path="url(#cr1)"/>
<rect x="239.6" y="110.1" width="275.6" height="54.8" fill="none" stroke="#8a8a8a" stroke-width="0.8"/>
<path d="M293.83,164.9v-2.7M293.83,110.1v2.7M349.18,164.9v-2.7M349.18,110.1v2.7M404.52,164.9v-2.7M404.52,110.1v2.7M459.86,164.9v-2.7M459.86,110.1v2.7M515.2,164.9v-2.7M515.2,110.1v2.7M239.6,158.05h2.7M515.2,158.05h-2.7M239.6,144.35h2.7M515.2,144.35h-2.7M239.6,130.65h2.7M515.2,130.65h-2.7M239.6,116.95h2.7M515.2,116.95h-2.7" stroke="#8a8a8a" stroke-width="0.7" fill="none"/>
<g font-family='"Liberation Sans", sans-serif' font-size="8.9" fill="#303030" stroke="#303030" stroke-width="0.18"><text x="293.83" y="175.8" text-anchor="middle">50</text><text x="349.18" y="175.8" text-anchor="middle">100</text><text x="404.52" y="175.8" text-anchor="middle">150</text><text x="459.86" y="175.8" text-anchor="middle">200</text><text x="515.2" y="175.8" text-anchor="middle">250</text><text x="236.7" y="161.25" text-anchor="end">-0.5</text><text x="236.7" y="147.55" text-anchor="end">0</text><text x="236.7" y="133.85" text-anchor="end">0.5</text><text x="236.7" y="120.15" text-anchor="end">1</text></g>
<text x="377.4" y="106" text-anchor="middle" font-family='"Liberation Sans", sans-serif' font-size="9.6" font-weight="bold" fill="#111">SNR = &#160;10</text>
<text x="510.5" y="126.8" text-anchor="end" font-family='"Liberation Sans", sans-serif' font-size="15.6" fill="#111" stroke="#111" stroke-width="0.3" textLength="73.6" lengthAdjust="spacingAndGlyphs">r = 0.9231</text>
<path d="M240.1,240.8C240.78,239.43 242.6,235.8 244.2,232.6C245.8,229.4 247.63,224.67 249.7,221.6C251.77,218.53 254.3,216.03 256.6,214.2C258.9,212.37 261.43,210.97 263.5,210.6C265.57,210.23 267.17,211.4 269,212C270.83,212.6 272.68,213.83 274.5,214.2C276.32,214.57 278.08,214.57 279.9,214.2C281.72,213.83 283.78,211.68 285.4,212C287.02,212.32 288.22,214.05 289.6,216.1C290.98,218.15 292.1,221.55 293.7,224.3C295.3,227.05 297.37,230.08 299.2,232.6C301.03,235.12 302.87,238.82 304.7,239.4C306.53,239.98 308.6,236.92 310.2,236.1C311.8,235.28 312.48,234.72 314.3,234.5C316.12,234.28 319.27,235.35 321.1,234.8C322.93,234.25 323.92,232.72 325.3,231.2C326.68,229.68 328.03,226.15 329.4,225.7C330.77,225.25 331.9,227.13 333.5,228.5C335.1,229.87 337.4,233.08 339,233.9C340.6,234.72 341.73,233.62 343.1,233.4C344.47,233.18 345.6,232.28 347.2,232.6C348.8,232.92 350.87,235.08 352.7,235.3C354.53,235.52 356.37,234.82 358.2,233.9C360.03,232.98 361.87,232.08 363.7,229.8C365.53,227.52 367.37,222.95 369.2,220.2C371.03,217.45 372.73,214.37 374.7,213.3C376.67,212.23 379.63,213.65 381,213.8C382.37,213.95 381.45,215.18 382.9,214.2C384.35,213.22 387.87,208.05 389.7,207.9C391.53,207.75 392.3,210.33 393.9,213.3C395.5,216.27 397.7,222.63 399.3,225.7C400.9,228.77 401.67,230.23 403.5,231.7C405.33,233.17 407.57,233.9 410.3,234.5C413.03,235.1 417.15,235.3 419.9,235.3C422.65,235.3 424.5,234.73 426.8,234.5C429.1,234.27 431.18,233.45 433.7,233.9C436.22,234.35 439.38,237.42 441.9,237.2C444.42,236.98 446.73,234.97 448.8,232.6C450.87,230.23 452.47,225.75 454.3,223C456.13,220.25 457.75,217.72 459.8,216.1C461.85,214.48 464.32,214.45 466.6,213.3C468.88,212.15 471.43,209.2 473.5,209.2C475.57,209.2 477.17,210.78 479,213.3C480.83,215.82 482.67,221.08 484.5,224.3C486.33,227.52 488.4,230.9 490,232.6C491.6,234.3 492.5,234.42 494.1,234.5C495.7,234.58 497.77,233.28 499.6,233.1C501.43,232.92 503.27,233.82 505.1,233.4C506.93,232.98 508.92,231.33 510.6,230.6C512.28,229.87 514.43,229.27 515.2,229" fill="none" stroke="#86a5a7" stroke-width="1.1" clip-path="url(#cr2)"/>
<rect x="239.6" y="194.6" width="275.6" height="54.8" fill="none" stroke="#8a8a8a" stroke-width="0.8"/>
<path d="M293.83,249.4v-2.7M293.83,194.6v2.7M349.18,249.4v-2.7M349.18,194.6v2.7M404.52,249.4v-2.7M404.52,194.6v2.7M459.86,249.4v-2.7M459.86,194.6v2.7M515.2,249.4v-2.7M515.2,194.6v2.7M239.6,242.55h2.7M515.2,242.55h-2.7M239.6,228.85h2.7M515.2,228.85h-2.7M239.6,215.15h2.7M515.2,215.15h-2.7M239.6,201.45h2.7M515.2,201.45h-2.7" stroke="#8a8a8a" stroke-width="0.7" fill="none"/>
<g font-family='"Liberation Sans", sans-serif' font-size="8.9" fill="#303030" stroke="#303030" stroke-width="0.18"><text x="293.83" y="260.3" text-anchor="middle">50</text><text x="349.18" y="260.3" text-anchor="middle">100</text><text x="404.52" y="260.3" text-anchor="middle">150</text><text x="459.86" y="260.3" text-anchor="middle">200</text><text x="515.2" y="260.3" text-anchor="middle">250</text><text x="236.7" y="245.75" text-anchor="end">-0.5</text><text x="236.7" y="232.05" text-anchor="end">0</text><text x="236.7" y="218.35" text-anchor="end">0.5</text><text x="236.7" y="204.65" text-anchor="end">1</text></g>
<text x="377.4" y="190.5" text-anchor="middle" font-family='"Liberation Sans", sans-serif' font-size="9.6" font-weight="bold" fill="#111">SNR = &#160;4</text>
<text x="510.5" y="211.3" text-anchor="end" font-family='"Liberation Sans", sans-serif' font-size="15.6" fill="#111" stroke="#111" stroke-width="0.3" textLength="73.6" lengthAdjust="spacingAndGlyphs">r = 0.9150</text>
<path d="M240.1,325.8C240.78,324.43 242.82,320.35 244.2,317.6C245.58,314.85 247.02,312.28 248.4,309.3C249.78,306.32 251.37,301.53 252.5,299.7C253.63,297.87 253.83,298.2 255.2,298.3C256.57,298.4 258.87,300.3 260.7,300.3C262.53,300.3 264.13,298.95 266.2,298.3C268.27,297.65 271.03,296.53 273.1,296.4C275.17,296.27 277,296.85 278.6,297.5C280.2,298.15 281.1,300.17 282.7,300.3C284.3,300.43 286.6,298.17 288.2,298.3C289.8,298.43 290.93,298.57 292.3,301.1C293.67,303.63 295.03,309.98 296.4,313.5C297.77,317.02 299.12,320.47 300.5,322.2C301.88,323.93 303.18,324.08 304.7,323.9C306.22,323.72 308.13,321.23 309.6,321.1C311.07,320.97 312.17,322.27 313.5,323.1C314.83,323.93 316.33,326.8 317.6,326.1C318.87,325.4 319.82,321.47 321.1,318.9C322.38,316.33 323.92,312.43 325.3,310.7C326.68,308.97 328.03,308.03 329.4,308.5C330.77,308.97 331.9,311.77 333.5,313.5C335.1,315.23 337.4,318.22 339,318.9C340.6,319.58 341.73,318.05 343.1,317.6C344.47,317.15 345.82,315.62 347.2,316.2C348.58,316.78 350.17,319.45 351.4,321.1C352.63,322.75 353.47,326 354.6,326.1C355.73,326.2 356.92,324.03 358.2,321.7C359.48,319.37 360.7,314.75 362.3,312.1C363.9,309.45 366.18,307.4 367.8,305.8C369.42,304.2 370.62,303.28 372,302.5C373.38,301.72 374.75,302.25 376.1,301.1C377.45,299.95 378.65,297.12 380.1,295.6C381.55,294.08 383.2,291.77 384.8,292C386.4,292.23 388.18,295.48 389.7,297C391.22,298.52 392.52,299.5 393.9,301.1C395.28,302.7 396.4,304.08 398,306.6C399.6,309.12 401.9,313.92 403.5,316.2C405.1,318.48 406,319.93 407.6,320.3C409.2,320.67 411.27,318.72 413.1,318.4C414.93,318.08 416.55,318.32 418.6,318.4C420.65,318.48 423.35,319.37 425.4,318.9C427.45,318.43 429.3,315.37 430.9,315.6C432.5,315.83 433.62,318.6 435,320.3C436.38,322 437.58,325.57 439.2,325.8C440.82,326.03 442.87,323.07 444.7,321.7C446.53,320.33 448.6,320.12 450.2,317.6C451.8,315.08 452.93,310.03 454.3,306.6C455.67,303.17 457.03,298.7 458.4,297C459.77,295.3 460.9,296.03 462.5,296.4C464.1,296.77 466.17,298.28 468,299.2C469.83,300.12 471.67,302.05 473.5,301.9C475.33,301.75 477.4,297.28 479,298.3C480.6,299.32 481.73,304.57 483.1,308C484.47,311.43 485.6,316.85 487.2,318.9C488.8,320.95 490.87,319.83 492.7,320.3C494.53,320.77 496.6,322.38 498.2,321.7C499.8,321.02 500.92,318.27 502.3,316.2C503.68,314.13 505.12,309.98 506.5,309.3C507.88,308.62 509.15,311.4 510.6,312.1C512.05,312.8 514.43,313.27 515.2,313.5" fill="none" stroke="#86a5a7" stroke-width="1.1" clip-path="url(#cr3)"/>
<rect x="239.6" y="279.2" width="275.6" height="54.8" fill="none" stroke="#8a8a8a" stroke-width="0.8"/>
<path d="M293.83,334v-2.7M293.83,279.2v2.7M349.18,334v-2.7M349.18,279.2v2.7M404.52,334v-2.7M404.52,279.2v2.7M459.86,334v-2.7M459.86,279.2v2.7M515.2,334v-2.7M515.2,279.2v2.7M239.6,327.15h2.7M515.2,327.15h-2.7M239.6,313.45h2.7M515.2,313.45h-2.7M239.6,299.75h2.7M515.2,299.75h-2.7M239.6,286.05h2.7M515.2,286.05h-2.7" stroke="#8a8a8a" stroke-width="0.7" fill="none"/>
<g font-family='"Liberation Sans", sans-serif' font-size="8.9" fill="#303030" stroke="#303030" stroke-width="0.18"><text x="293.83" y="344.9" text-anchor="middle">50</text><text x="349.18" y="344.9" text-anchor="middle">100</text><text x="404.52" y="344.9" text-anchor="middle">150</text><text x="459.86" y="344.9" text-anchor="middle">200</text><text x="515.2" y="344.9" text-anchor="middle">250</text><text x="236.7" y="330.35" text-anchor="end">-0.5</text><text x="236.7" y="316.65" text-anchor="end">0</text><text x="236.7" y="302.95" text-anchor="end">0.5</text><text x="236.7" y="289.25" text-anchor="end">1</text></g>
<text x="377.4" y="275.1" text-anchor="middle" font-family='"Liberation Sans", sans-serif' font-size="9.6" font-weight="bold" fill="#111">SNR = &#160;2</text>
<text x="510.5" y="295.9" text-anchor="end" font-family='"Liberation Sans", sans-serif' font-size="15.6" fill="#111" stroke="#111" stroke-width="0.3" textLength="73.6" lengthAdjust="spacingAndGlyphs">r = 0.8938</text>
<path d="M240.1,412.2C240.7,409.92 242.55,402.85 243.7,398.5C244.85,394.15 245.77,389.08 247,386.1C248.23,383.12 249.73,381.07 251.1,380.6C252.47,380.13 254.05,383.07 255.2,383.3C256.35,383.53 256.85,382.9 258,382C259.15,381.1 260.73,377.68 262.1,377.9C263.47,378.12 264.83,380.33 266.2,383.3C267.57,386.27 268.92,393.87 270.3,395.7C271.68,397.53 273.12,395.9 274.5,394.3C275.88,392.7 277.23,387.38 278.6,386.1C279.97,384.82 281.33,386.37 282.7,386.6C284.07,386.83 285.2,386.43 286.8,387.5C288.4,388.57 290.47,389.8 292.3,393C294.13,396.2 296.2,403.73 297.8,406.7C299.4,409.67 300.53,411.27 301.9,410.8C303.27,410.33 304.72,406.65 306,403.9C307.28,401.15 308.35,395.2 309.6,394.3C310.85,393.4 312.27,396.67 313.5,398.5C314.73,400.33 315.73,404.85 317,405.3C318.27,405.75 319.72,403.03 321.1,401.2C322.48,399.37 323.92,395.9 325.3,394.3C326.68,392.7 328.03,391.37 329.4,391.6C330.77,391.83 332.13,393.18 333.5,395.7C334.87,398.22 336.23,403.95 337.6,406.7C338.97,409.45 340.32,412.67 341.7,412.2C343.08,411.73 344.52,406.42 345.9,403.9C347.28,401.38 348.63,397.55 350,397.1C351.37,396.65 352.73,399.6 354.1,401.2C355.47,402.8 356.83,407.15 358.2,406.7C359.57,406.25 360.92,401.48 362.3,398.5C363.68,395.52 364.88,391.1 366.5,388.8C368.12,386.5 370.4,386.83 372,384.7C373.6,382.57 374.98,377.73 376.1,376C377.22,374.27 377.57,373.3 378.7,374.3C379.83,375.3 381.52,380.03 382.9,382C384.28,383.97 385.63,385.73 387,386.1C388.37,386.47 389.73,383.52 391.1,384.2C392.47,384.88 393.83,387.6 395.2,390.2C396.57,392.8 397.92,397.05 399.3,399.8C400.68,402.55 402.12,406.23 403.5,406.7C404.88,407.17 406.47,403.52 407.6,402.6C408.73,401.68 409.15,400.62 410.3,401.2C411.45,401.78 412.88,404.73 414.5,406.1C416.12,407.47 418.4,408.93 420,409.4C421.6,409.87 422.73,409.9 424.1,408.9C425.47,407.9 426.83,404.45 428.2,403.4C429.57,402.35 430.93,403.28 432.3,402.6C433.67,401.92 435.03,399.08 436.4,399.3C437.77,399.52 439.03,402.3 440.5,403.9C441.97,405.5 443.82,409.8 445.2,408.9C446.58,408 447.52,402.77 448.8,398.5C450.08,394.23 451.53,386.15 452.9,383.3C454.27,380.45 455.4,381.53 457,381.4C458.6,381.27 460.67,383.08 462.5,382.5C464.33,381.92 466.17,378.45 468,377.9C469.83,377.35 471.67,378.07 473.5,379.2C475.33,380.33 477.4,382.87 479,384.7C480.6,386.53 481.73,388.6 483.1,390.2C484.47,391.8 485.82,392.02 487.2,394.3C488.58,396.58 490.02,401.28 491.4,403.9C492.78,406.52 494.13,409.08 495.5,410C496.87,410.92 498.23,410.63 499.6,409.4C500.97,408.17 502.33,403.97 503.7,402.6C505.07,401.23 506.42,401.43 507.8,401.2C509.18,400.97 510.77,401.43 512,401.2C513.23,400.97 514.67,400.03 515.2,399.8" fill="none" stroke="#86a5a7" stroke-width="1.1" clip-path="url(#cr4)"/>
<rect x="239.6" y="363.9" width="275.6" height="54.8" fill="none" stroke="#8a8a8a" stroke-width="0.8"/>
<path d="M293.83,418.7v-2.7M293.83,363.9v2.7M349.18,418.7v-2.7M349.18,363.9v2.7M404.52,418.7v-2.7M404.52,363.9v2.7M459.86,418.7v-2.7M459.86,363.9v2.7M515.2,418.7v-2.7M515.2,363.9v2.7M239.6,411.85h2.7M515.2,411.85h-2.7M239.6,398.15h2.7M515.2,398.15h-2.7M239.6,384.45h2.7M515.2,384.45h-2.7M239.6,370.75h2.7M515.2,370.75h-2.7" stroke="#8a8a8a" stroke-width="0.7" fill="none"/>
<g font-family='"Liberation Sans", sans-serif' font-size="8.9" fill="#303030" stroke="#303030" stroke-width="0.18"><text x="293.83" y="429.6" text-anchor="middle">50</text><text x="349.18" y="429.6" text-anchor="middle">100</text><text x="404.52" y="429.6" text-anchor="middle">150</text><text x="459.86" y="429.6" text-anchor="middle">200</text><text x="515.2" y="429.6" text-anchor="middle">250</text><text x="236.7" y="415.05" text-anchor="end">-0.5</text><text x="236.7" y="401.35" text-anchor="end">0</text><text x="236.7" y="387.65" text-anchor="end">0.5</text><text x="236.7" y="373.95" text-anchor="end">1</text></g>
<text x="377.4" y="359.8" text-anchor="middle" font-family='"Liberation Sans", sans-serif' font-size="9.6" font-weight="bold" fill="#111">SNR = &#160;1</text>
<text x="510.5" y="380.6" text-anchor="end" font-family='"Liberation Sans", sans-serif' font-size="15.6" fill="#111" stroke="#111" stroke-width="0.3" textLength="73.6" lengthAdjust="spacingAndGlyphs">r = 0.7998</text>
<path d="M240.1,486.6C240.78,485.92 242.82,483.65 244.2,482.5C245.58,481.35 247.02,480.53 248.4,479.7C249.78,478.87 251.13,479.1 252.5,477.5C253.87,475.9 255.23,472.48 256.6,470.1C257.97,467.72 259.55,464.12 260.7,463.2C261.85,462.28 262.58,463.68 263.5,464.6C264.42,465.52 265.28,467.55 266.2,468.7C267.12,469.85 267.85,471.73 269,471.5C270.15,471.27 271.73,468.22 273.1,467.3C274.47,466.38 275.83,465.3 277.2,466C278.57,466.7 280.02,469.67 281.3,471.5C282.58,473.33 283.75,476.55 284.9,477C286.05,477.45 287.2,475.35 288.2,474.2C289.2,473.05 289.77,470.18 290.9,470.1C292.03,470.02 293.4,472.33 295,473.7C296.6,475.07 298.88,476.38 300.5,478.3C302.12,480.22 303.45,483.05 304.7,485.2C305.95,487.35 307,489.83 308,491.2C309,492.57 309.65,493.95 310.7,493.4C311.75,492.85 313.02,490.18 314.3,487.9C315.58,485.62 316.8,482.43 318.4,479.7C320,476.97 322.3,474.02 323.9,471.5C325.5,468.98 326.72,465.88 328,464.6C329.28,463.32 330.45,462.65 331.6,463.8C332.75,464.95 333.67,468.38 334.9,471.5C336.13,474.62 337.63,480.45 339,482.5C340.37,484.55 341.73,483.58 343.1,483.8C344.47,484.02 345.82,483.57 347.2,483.8C348.58,484.03 349.88,484.52 351.4,485.2C352.92,485.88 354.93,488.58 356.3,487.9C357.67,487.22 358.5,483.38 359.6,481.1C360.7,478.82 361.75,475.12 362.9,474.2C364.05,473.28 365.22,474.45 366.5,475.6C367.78,476.75 369.23,481.33 370.6,481.1C371.97,480.87 373.33,477.18 374.7,474.2C376.07,471.22 377.9,465.25 378.8,463.2C379.7,461.15 379.2,463.27 380.1,461.9C381,460.53 382.82,456.7 384.2,455C385.58,453.3 387.02,452.25 388.4,451.7C389.78,451.15 391.37,450.92 392.5,451.7C393.63,452.48 394.28,453.1 395.2,456.4C396.12,459.7 397.08,466.7 398,471.5C398.92,476.3 399.78,481.55 400.7,485.2C401.62,488.85 402.35,492.25 403.5,493.4C404.65,494.55 406.47,492.78 407.6,492.1C408.73,491.42 409.15,489.53 410.3,489.3C411.45,489.07 413.35,490.57 414.5,490.7C415.65,490.83 415.93,489.28 417.2,490.1C418.47,490.92 420.73,495.5 422.1,495.6C423.47,495.7 424.15,492.67 425.4,490.7C426.65,488.73 428,485.17 429.6,483.8C431.2,482.43 433.32,484.1 435,482.5C436.68,480.9 438.32,476.95 439.7,474.2C441.08,471.45 442.25,467.92 443.3,466C444.35,464.08 445.08,462.25 446,462.7C446.92,463.15 447.73,466.78 448.8,468.7C449.87,470.62 451.27,473.73 452.4,474.2C453.53,474.67 454.37,472.42 455.6,471.5C456.83,470.58 458.65,470.77 459.8,468.7C460.95,466.63 461.58,460.47 462.5,459.1C463.42,457.73 464.15,459.35 465.3,460.5C466.45,461.65 467.8,465.32 469.4,466C471,466.68 473.43,463.92 474.9,464.6C476.37,465.28 477.07,466.67 478.2,470.1C479.33,473.53 480.42,480.62 481.7,485.2C482.98,489.78 484.75,495.32 485.9,497.6C487.05,499.88 487.68,500.28 488.6,498.9C489.52,497.52 490.25,493.87 491.4,489.3C492.55,484.73 494.5,475.17 495.5,471.5C496.5,467.83 496.57,466.8 497.4,467.3C498.23,467.8 499.52,470.3 500.5,474.5C501.48,478.7 502.55,489.17 503.3,492.5C504.05,495.83 504.38,494.75 505,494.5C505.62,494.25 506.25,493.75 507,491C507.75,488.25 508.75,481.53 509.5,478C510.25,474.47 510.83,471.53 511.5,469.8C512.17,468.07 512.88,467.82 513.5,467.6C514.12,467.38 514.92,468.35 515.2,468.5" fill="none" stroke="#86a5a7" stroke-width="1.1" clip-path="url(#cr5)"/>
<rect x="239.6" y="448.4" width="275.6" height="54.8" fill="none" stroke="#8a8a8a" stroke-width="0.8"/>
<path d="M293.83,503.2v-2.7M293.83,448.4v2.7M349.18,503.2v-2.7M349.18,448.4v2.7M404.52,503.2v-2.7M404.52,448.4v2.7M459.86,503.2v-2.7M459.86,448.4v2.7M515.2,503.2v-2.7M515.2,448.4v2.7M239.6,498.22h2.7M515.2,498.22h-2.7M239.6,478.29h2.7M515.2,478.29h-2.7M239.6,458.36h2.7M515.2,458.36h-2.7" stroke="#8a8a8a" stroke-width="0.7" fill="none"/>
<g font-family='"Liberation Sans", sans-serif' font-size="8.9" fill="#303030" stroke="#303030" stroke-width="0.18"><text x="293.83" y="514.1" text-anchor="middle">50</text><text x="349.18" y="514.1" text-anchor="middle">100</text><text x="404.52" y="514.1" text-anchor="middle">150</text><text x="459.86" y="514.1" text-anchor="middle">200</text><text x="515.2" y="514.1" text-anchor="middle">250</text><text x="236.7" y="501.42" text-anchor="end">-1</text><text x="236.7" y="481.49" text-anchor="end">0</text><text x="236.7" y="461.56" text-anchor="end">1</text></g>
<text x="377.4" y="444.3" text-anchor="middle" font-family='"Liberation Sans", sans-serif' font-size="9.6" font-weight="bold" fill="#111">SNR = &#160;0.5</text>
<text x="510.5" y="465.1" text-anchor="end" font-family='"Liberation Sans", sans-serif' font-size="15.6" fill="#111" stroke="#111" stroke-width="0.3" textLength="73.6" lengthAdjust="spacingAndGlyphs">r = 0.6430</text>
<text x="106.9" y="541" text-anchor="middle" font-family='"Liberation Sans", sans-serif' font-size="13" fill="#222">(a)</text>
<text x="371.9" y="541" text-anchor="middle" font-family='"Liberation Sans", sans-serif' font-size="13" fill="#222">(b)</text>
</svg>
</body></html>
